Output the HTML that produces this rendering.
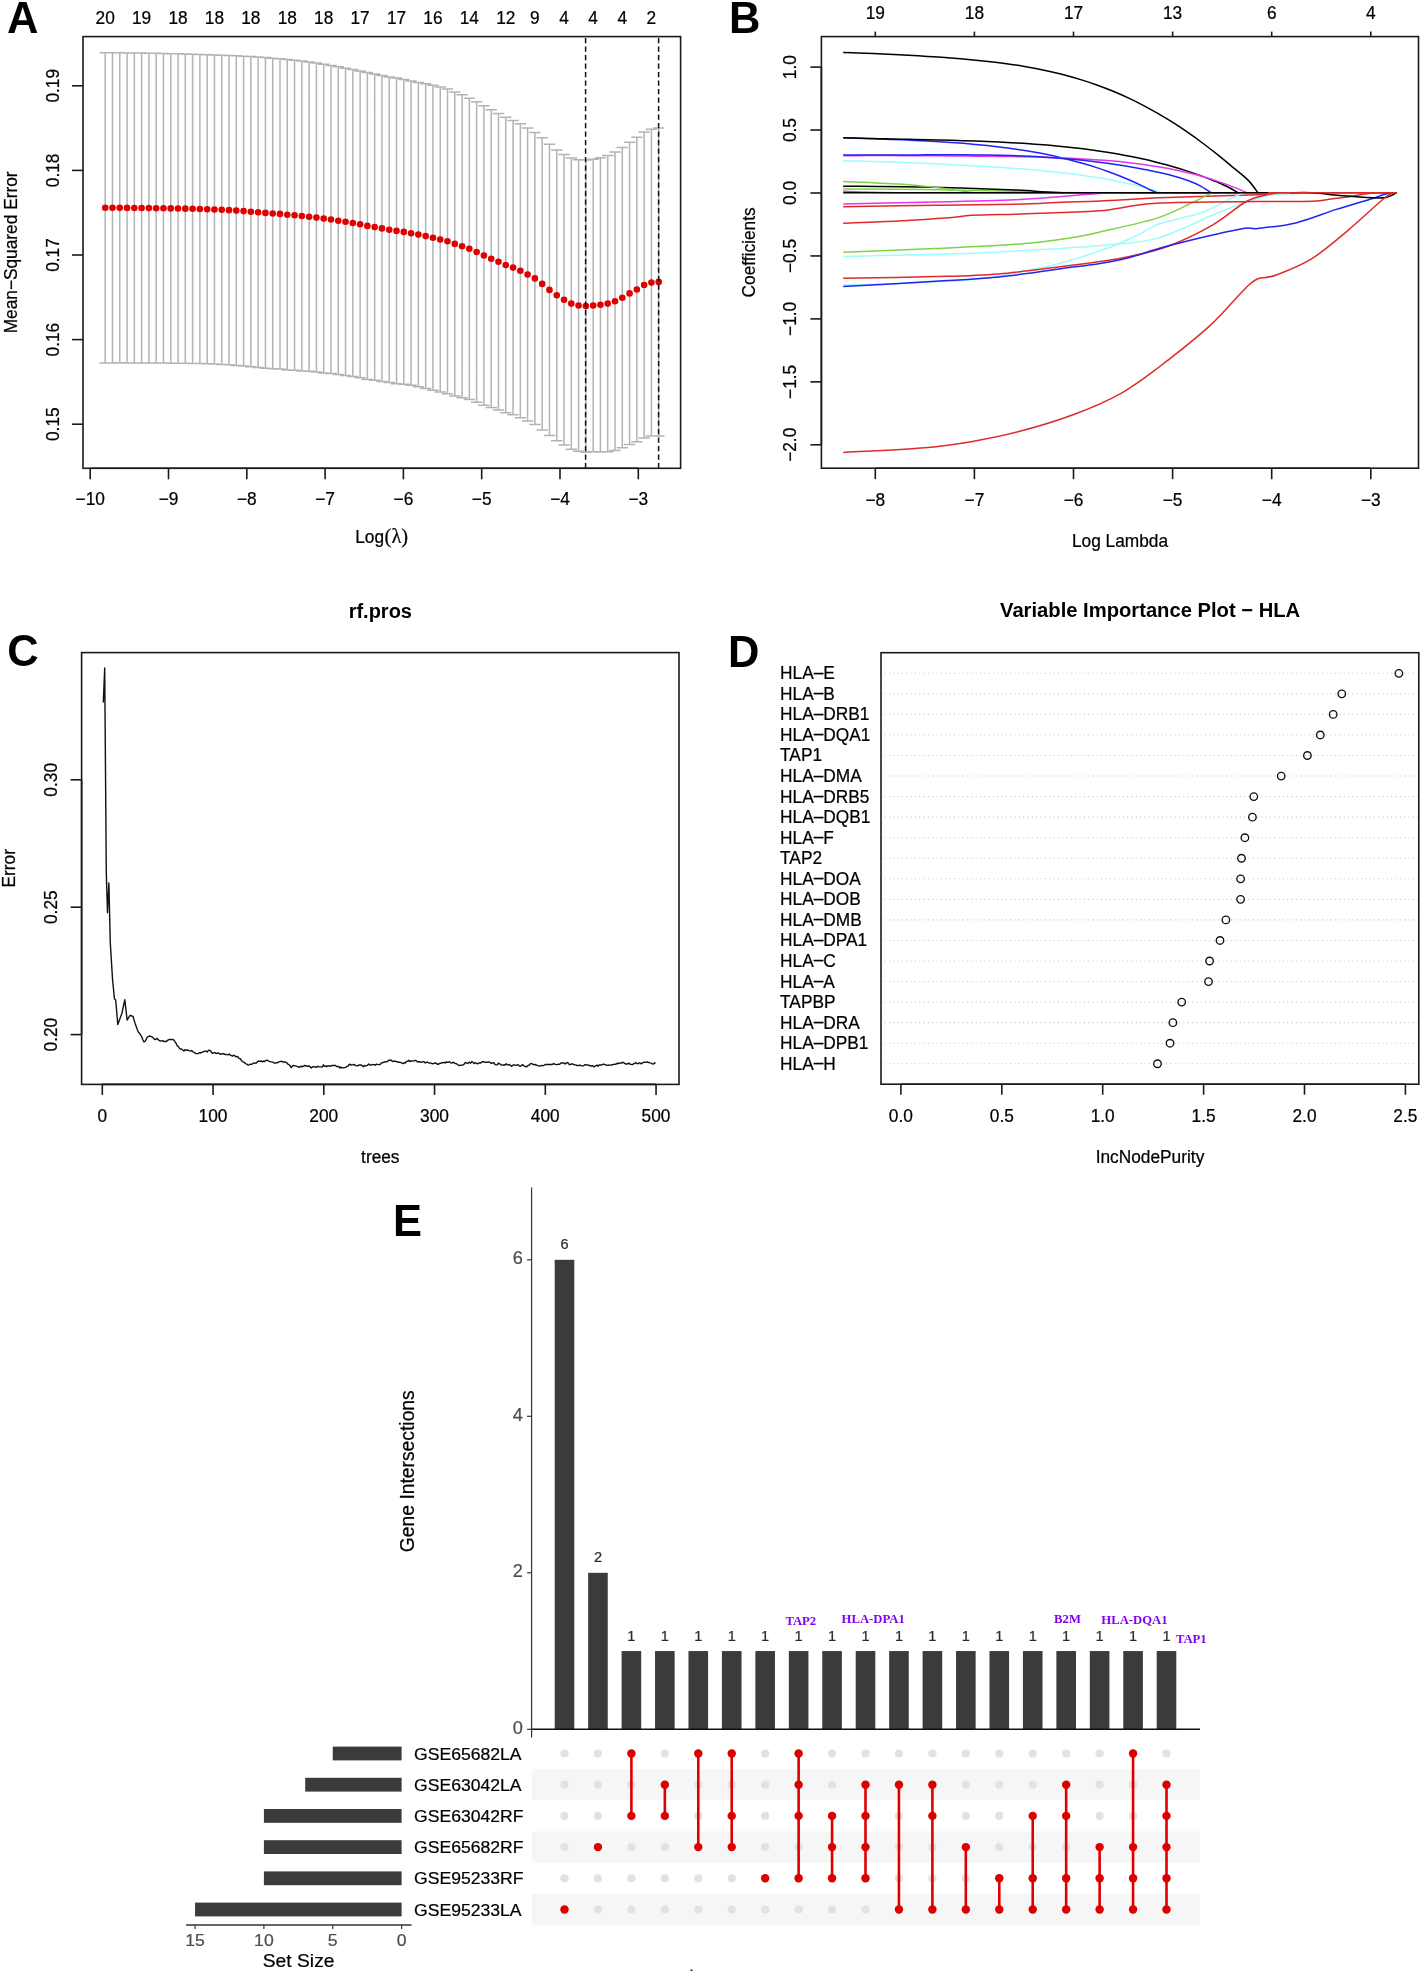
<!DOCTYPE html>
<html><head><meta charset="utf-8"><title>Figure</title>
<style>
html,body{margin:0;padding:0;background:#fff;}
svg{display:block;font-family:"Liberation Sans", sans-serif;will-change:transform;}
</style></head>
<body>
<svg width="1422" height="1974" viewBox="0 0 1422 1974">
<rect width="1422" height="1974" fill="#fff"/>
<text x="6.92" y="32.6" font-size="43.5" text-anchor="start" fill="#000" font-weight="bold">A</text>
<text x="729.09" y="32.6" font-size="43.5" text-anchor="start" fill="#000" font-weight="bold">B</text>
<text x="7.22" y="666.2" font-size="43.5" text-anchor="start" fill="#000" font-weight="bold">C</text>
<text x="728.09" y="667.3" font-size="43.5" text-anchor="start" fill="#000" font-weight="bold">D</text>
<text x="392.89" y="1236.3" font-size="43.5" text-anchor="start" fill="#000" font-weight="bold">E</text>
<path d="M105.2 52.7V362.9M99.5 52.7H110.9M99.5 362.9H110.9M112.48 52.78V362.88M106.78 52.78H118.18M106.78 362.88H118.18M119.77 52.85V362.87M114.07 52.85H125.47M114.07 362.87H125.47M127.05 52.92V362.88M121.35 52.92H132.75M121.35 362.88H132.75M134.33 53V362.91M128.63 53H140.03M128.63 362.91H140.03M141.62 53.09V362.96M135.92 53.09H147.31M135.92 362.96H147.31M148.9 53.2V363M143.2 53.2H154.6M143.2 363H154.6M156.18 53.33V363.05M150.48 53.33H161.88M150.48 363.05H161.88M163.46 53.47V363.1M157.76 53.47H169.16M157.76 363.1H169.16M170.75 53.63V363.17M165.05 53.63H176.45M165.05 363.17H176.45M178.03 53.8V363.23M172.33 53.8H183.73M172.33 363.23H183.73M185.31 53.99V363.29M179.61 53.99H191.01M179.61 363.29H191.01M192.6 54.2V363.4M186.9 54.2H198.3M186.9 363.4H198.3M199.88 54.42V363.57M194.18 54.42H205.58M194.18 363.57H205.58M207.16 54.66V363.8M201.46 54.66H212.86M201.46 363.8H212.86M214.44 54.91V364.09M208.75 54.91H220.14M208.75 364.09H220.14M221.73 55.18V364.45M216.03 55.18H227.43M216.03 364.45H227.43M229.01 55.48V364.87M223.31 55.48H234.71M223.31 364.87H234.71M236.29 55.8V365.4M230.59 55.8H241.99M230.59 365.4H241.99M243.58 56.16V366.08M237.88 56.16H249.28M237.88 366.08H249.28M250.86 56.58V366.83M245.16 56.58H256.56M245.16 366.83H256.56M258.14 57.05V367.55M252.44 57.05H263.84M252.44 367.55H263.84M265.43 57.6V368.22M259.73 57.6H271.13M259.73 368.22H271.13M272.71 58.21V368.79M267.01 58.21H278.41M267.01 368.79H278.41M279.99 58.85V368.95M274.29 58.85H285.69M274.29 368.95H285.69M287.28 59.55V370.05M281.58 59.55H292.98M281.58 370.05H292.98M294.56 60.29V370.31M288.86 60.29H300.26M288.86 370.31H300.26M301.84 61.1V370.9M296.14 61.1H307.54M296.14 370.9H307.54M309.12 62.04V371.36M303.42 62.04H314.82M303.42 371.36H314.82M316.41 63.12V372.08M310.71 63.12H322.11M310.71 372.08H322.11M323.69 64.3V372.9M317.99 64.3H329.39M317.99 372.9H329.39M330.97 65.53V373.47M325.27 65.53H336.67M325.27 373.47H336.67M338.26 66.81V374.59M332.56 66.81H343.96M332.56 374.59H343.96M345.54 68.13V375.47M339.84 68.13H351.24M339.84 375.47H351.24M352.82 69.5V376.5M347.12 69.5H358.52M347.12 376.5H358.52M360.11 70.92V377.68M354.41 70.92H365.81M354.41 377.68H365.81M367.39 72.4V379.4M361.69 72.4H373.09M361.69 379.4H373.09M374.67 73.91V380.29M368.97 73.91H380.37M368.97 380.29H380.37M381.95 75.4V381.4M376.25 75.4H387.65M376.25 381.4H387.65M389.24 76.9V382.5M383.54 76.9H394.94M383.54 382.5H394.94M396.52 78.1V383.7M390.82 78.1H402.22M390.82 383.7H402.22M403.8 79.6V384.2M398.1 79.6H409.5M398.1 384.2H409.5M411.09 81.1V385.3M405.39 81.1H416.79M405.39 385.3H416.79M418.37 82.4V386.8M412.67 82.4H424.07M412.67 386.8H424.07M425.65 83.8V388.4M419.95 83.8H431.35M419.95 388.4H431.35M432.94 85.3V390.3M427.24 85.3H438.63M427.24 390.3H438.63M440.22 87V392M434.52 87H445.92M434.52 392H445.92M447.5 88.9V393.7M441.8 88.9H453.2M441.8 393.7H453.2M454.78 91.9V395.9M449.08 91.9H460.48M449.08 395.9H460.48M462.07 94.8V397.8M456.37 94.8H467.77M456.37 397.8H467.77M469.35 98.2V399.4M463.65 98.2H475.05M463.65 399.4H475.05M476.63 101.8V402.2M470.93 101.8H482.33M470.93 402.2H482.33M483.92 105.8V405.2M478.22 105.8H489.62M478.22 405.2H489.62M491.2 109.8V407.6M485.5 109.8H496.9M485.5 407.6H496.9M498.48 113.6V410M492.78 113.6H504.18M492.78 410H504.18M505.76 117.2V412.8M500.06 117.2H511.46M500.06 412.8H511.46M513.05 120.5V414.7M507.35 120.5H518.75M507.35 414.7H518.75M520.33 123.7V417.7M514.63 123.7H526.03M514.63 417.7H526.03M527.61 127.9V421.1M521.91 127.9H533.31M521.91 421.1H533.31M534.9 132.4V424.4M529.2 132.4H540.6M529.2 424.4H540.6M542.18 137.8V430M536.48 137.8H547.88M536.48 430H547.88M549.46 144.2V435.6M543.76 144.2H555.16M543.76 435.6H555.16M556.75 149.9V440.7M551.05 149.9H562.45M551.05 440.7H562.45M564.03 154.5V445.1M558.33 154.5H569.73M558.33 445.1H569.73M571.31 157.9V449.3M565.61 157.9H577.01M565.61 449.3H577.01M578.6 159.8V451.2M572.89 159.8H584.3M572.89 451.2H584.3M585.88 160V452.2M580.18 160H591.58M580.18 452.2H591.58M593.16 159.2V451.8M587.46 159.2H598.86M587.46 451.8H598.86M600.44 157.7V451.9M594.74 157.7H606.14M594.74 451.9H606.14M607.73 155.4V451.8M602.03 155.4H613.43M602.03 451.8H613.43M615.01 152V450.4M609.31 152H620.71M609.31 450.4H620.71M622.29 147.6V447.8M616.59 147.6H627.99M616.59 447.8H627.99M629.58 142.3V444.5M623.88 142.3H635.28M623.88 444.5H635.28M636.86 137.2V441.8M631.16 137.2H642.56M631.16 441.8H642.56M644.14 131.9V438.1M638.44 131.9H649.84M638.44 438.1H649.84M651.43 129.2V436M645.73 129.2H657.13M645.73 436H657.13M658.71 127.9V435.9M653.01 127.9H664.41M653.01 435.9H664.41" stroke="#b3b3b3" stroke-width="1.5" fill="none"/>
<circle cx="105.2" cy="207.8" r="3.3" fill="#e00000"/>
<circle cx="112.48" cy="207.83" r="3.3" fill="#e00000"/>
<circle cx="119.77" cy="207.86" r="3.3" fill="#e00000"/>
<circle cx="127.05" cy="207.9" r="3.3" fill="#e00000"/>
<circle cx="134.33" cy="207.96" r="3.3" fill="#e00000"/>
<circle cx="141.62" cy="208.02" r="3.3" fill="#e00000"/>
<circle cx="148.9" cy="208.1" r="3.3" fill="#e00000"/>
<circle cx="156.18" cy="208.19" r="3.3" fill="#e00000"/>
<circle cx="163.46" cy="208.29" r="3.3" fill="#e00000"/>
<circle cx="170.75" cy="208.4" r="3.3" fill="#e00000"/>
<circle cx="178.03" cy="208.51" r="3.3" fill="#e00000"/>
<circle cx="185.31" cy="208.64" r="3.3" fill="#e00000"/>
<circle cx="192.6" cy="208.8" r="3.3" fill="#e00000"/>
<circle cx="199.88" cy="209" r="3.3" fill="#e00000"/>
<circle cx="207.16" cy="209.23" r="3.3" fill="#e00000"/>
<circle cx="214.44" cy="209.5" r="3.3" fill="#e00000"/>
<circle cx="221.73" cy="209.81" r="3.3" fill="#e00000"/>
<circle cx="229.01" cy="210.17" r="3.3" fill="#e00000"/>
<circle cx="236.29" cy="210.6" r="3.3" fill="#e00000"/>
<circle cx="243.58" cy="211.12" r="3.3" fill="#e00000"/>
<circle cx="250.86" cy="211.71" r="3.3" fill="#e00000"/>
<circle cx="258.14" cy="212.3" r="3.3" fill="#e00000"/>
<circle cx="265.43" cy="212.91" r="3.3" fill="#e00000"/>
<circle cx="272.71" cy="213.5" r="3.3" fill="#e00000"/>
<circle cx="279.99" cy="213.9" r="3.3" fill="#e00000"/>
<circle cx="287.28" cy="214.8" r="3.3" fill="#e00000"/>
<circle cx="294.56" cy="215.3" r="3.3" fill="#e00000"/>
<circle cx="301.84" cy="216" r="3.3" fill="#e00000"/>
<circle cx="309.12" cy="216.7" r="3.3" fill="#e00000"/>
<circle cx="316.41" cy="217.6" r="3.3" fill="#e00000"/>
<circle cx="323.69" cy="218.6" r="3.3" fill="#e00000"/>
<circle cx="330.97" cy="219.5" r="3.3" fill="#e00000"/>
<circle cx="338.26" cy="220.7" r="3.3" fill="#e00000"/>
<circle cx="345.54" cy="221.8" r="3.3" fill="#e00000"/>
<circle cx="352.82" cy="223" r="3.3" fill="#e00000"/>
<circle cx="360.11" cy="224.3" r="3.3" fill="#e00000"/>
<circle cx="367.39" cy="225.9" r="3.3" fill="#e00000"/>
<circle cx="374.67" cy="227.1" r="3.3" fill="#e00000"/>
<circle cx="381.95" cy="228.4" r="3.3" fill="#e00000"/>
<circle cx="389.24" cy="229.7" r="3.3" fill="#e00000"/>
<circle cx="396.52" cy="230.9" r="3.3" fill="#e00000"/>
<circle cx="403.8" cy="231.9" r="3.3" fill="#e00000"/>
<circle cx="411.09" cy="233.2" r="3.3" fill="#e00000"/>
<circle cx="418.37" cy="234.6" r="3.3" fill="#e00000"/>
<circle cx="425.65" cy="236.1" r="3.3" fill="#e00000"/>
<circle cx="432.94" cy="237.8" r="3.3" fill="#e00000"/>
<circle cx="440.22" cy="239.5" r="3.3" fill="#e00000"/>
<circle cx="447.5" cy="241.3" r="3.3" fill="#e00000"/>
<circle cx="454.78" cy="243.9" r="3.3" fill="#e00000"/>
<circle cx="462.07" cy="246.3" r="3.3" fill="#e00000"/>
<circle cx="469.35" cy="248.8" r="3.3" fill="#e00000"/>
<circle cx="476.63" cy="252" r="3.3" fill="#e00000"/>
<circle cx="483.92" cy="255.5" r="3.3" fill="#e00000"/>
<circle cx="491.2" cy="258.7" r="3.3" fill="#e00000"/>
<circle cx="498.48" cy="261.8" r="3.3" fill="#e00000"/>
<circle cx="505.76" cy="265" r="3.3" fill="#e00000"/>
<circle cx="513.05" cy="267.6" r="3.3" fill="#e00000"/>
<circle cx="520.33" cy="270.7" r="3.3" fill="#e00000"/>
<circle cx="527.61" cy="274.5" r="3.3" fill="#e00000"/>
<circle cx="534.9" cy="278.4" r="3.3" fill="#e00000"/>
<circle cx="542.18" cy="283.9" r="3.3" fill="#e00000"/>
<circle cx="549.46" cy="289.9" r="3.3" fill="#e00000"/>
<circle cx="556.75" cy="295.3" r="3.3" fill="#e00000"/>
<circle cx="564.03" cy="299.8" r="3.3" fill="#e00000"/>
<circle cx="571.31" cy="303.6" r="3.3" fill="#e00000"/>
<circle cx="578.6" cy="305.5" r="3.3" fill="#e00000"/>
<circle cx="585.88" cy="306.1" r="3.3" fill="#e00000"/>
<circle cx="593.16" cy="305.5" r="3.3" fill="#e00000"/>
<circle cx="600.44" cy="304.8" r="3.3" fill="#e00000"/>
<circle cx="607.73" cy="303.6" r="3.3" fill="#e00000"/>
<circle cx="615.01" cy="301.2" r="3.3" fill="#e00000"/>
<circle cx="622.29" cy="297.7" r="3.3" fill="#e00000"/>
<circle cx="629.58" cy="293.4" r="3.3" fill="#e00000"/>
<circle cx="636.86" cy="289.5" r="3.3" fill="#e00000"/>
<circle cx="644.14" cy="285" r="3.3" fill="#e00000"/>
<circle cx="651.43" cy="282.6" r="3.3" fill="#e00000"/>
<circle cx="658.71" cy="281.9" r="3.3" fill="#e00000"/>
<line x1="585.6" y1="468.3" x2="585.6" y2="36.6" stroke="#111" stroke-width="1.5" stroke-dasharray="5.3 3.2"/>
<line x1="658.6" y1="468.3" x2="658.6" y2="36.6" stroke="#111" stroke-width="1.5" stroke-dasharray="5.3 3.2"/>
<rect x="83" y="36.6" width="597.6" height="431.7" fill="none" stroke="#1a1a1a" stroke-width="1.6"/>
<text x="105.2" y="23.7" font-size="17.3" text-anchor="middle" fill="#000" transform="translate(105.2 23.7) scale(1 1.03) translate(-105.2 -23.7)" stroke="#000" stroke-width="0.22">20</text>
<text x="141.62" y="23.7" font-size="17.3" text-anchor="middle" fill="#000" transform="translate(141.62 23.7) scale(1 1.03) translate(-141.62 -23.7)" stroke="#000" stroke-width="0.22">19</text>
<text x="178.03" y="23.7" font-size="17.3" text-anchor="middle" fill="#000" transform="translate(178.03 23.7) scale(1 1.03) translate(-178.03 -23.7)" stroke="#000" stroke-width="0.22">18</text>
<text x="214.44" y="23.7" font-size="17.3" text-anchor="middle" fill="#000" transform="translate(214.44 23.7) scale(1 1.03) translate(-214.44 -23.7)" stroke="#000" stroke-width="0.22">18</text>
<text x="250.86" y="23.7" font-size="17.3" text-anchor="middle" fill="#000" transform="translate(250.86 23.7) scale(1 1.03) translate(-250.86 -23.7)" stroke="#000" stroke-width="0.22">18</text>
<text x="287.28" y="23.7" font-size="17.3" text-anchor="middle" fill="#000" transform="translate(287.28 23.7) scale(1 1.03) translate(-287.28 -23.7)" stroke="#000" stroke-width="0.22">18</text>
<text x="323.69" y="23.7" font-size="17.3" text-anchor="middle" fill="#000" transform="translate(323.69 23.7) scale(1 1.03) translate(-323.69 -23.7)" stroke="#000" stroke-width="0.22">18</text>
<text x="360.11" y="23.7" font-size="17.3" text-anchor="middle" fill="#000" transform="translate(360.11 23.7) scale(1 1.03) translate(-360.11 -23.7)" stroke="#000" stroke-width="0.22">17</text>
<text x="396.52" y="23.7" font-size="17.3" text-anchor="middle" fill="#000" transform="translate(396.52 23.7) scale(1 1.03) translate(-396.52 -23.7)" stroke="#000" stroke-width="0.22">17</text>
<text x="432.94" y="23.7" font-size="17.3" text-anchor="middle" fill="#000" transform="translate(432.94 23.7) scale(1 1.03) translate(-432.94 -23.7)" stroke="#000" stroke-width="0.22">16</text>
<text x="469.35" y="23.7" font-size="17.3" text-anchor="middle" fill="#000" transform="translate(469.35 23.7) scale(1 1.03) translate(-469.35 -23.7)" stroke="#000" stroke-width="0.22">14</text>
<text x="505.76" y="23.7" font-size="17.3" text-anchor="middle" fill="#000" transform="translate(505.76 23.7) scale(1 1.03) translate(-505.76 -23.7)" stroke="#000" stroke-width="0.22">12</text>
<text x="534.9" y="23.7" font-size="17.3" text-anchor="middle" fill="#000" transform="translate(534.9 23.7) scale(1 1.03) translate(-534.9 -23.7)" stroke="#000" stroke-width="0.22">9</text>
<text x="564.03" y="23.7" font-size="17.3" text-anchor="middle" fill="#000" transform="translate(564.03 23.7) scale(1 1.03) translate(-564.03 -23.7)" stroke="#000" stroke-width="0.22">4</text>
<text x="593.16" y="23.7" font-size="17.3" text-anchor="middle" fill="#000" transform="translate(593.16 23.7) scale(1 1.03) translate(-593.16 -23.7)" stroke="#000" stroke-width="0.22">4</text>
<text x="622.29" y="23.7" font-size="17.3" text-anchor="middle" fill="#000" transform="translate(622.29 23.7) scale(1 1.03) translate(-622.29 -23.7)" stroke="#000" stroke-width="0.22">4</text>
<text x="651.43" y="23.7" font-size="17.3" text-anchor="middle" fill="#000" transform="translate(651.43 23.7) scale(1 1.03) translate(-651.43 -23.7)" stroke="#000" stroke-width="0.22">2</text>
<line x1="90.2" y1="468.3" x2="90.2" y2="479.3" stroke="#1a1a1a" stroke-width="1.6"/>
<text x="90.2" y="505.5" font-size="17.3" text-anchor="middle" fill="#000" transform="translate(90.2 505.5) scale(1 1.03) translate(-90.2 -505.5)" stroke="#000" stroke-width="0.22">−10</text>
<line x1="168.5" y1="468.3" x2="168.5" y2="479.3" stroke="#1a1a1a" stroke-width="1.6"/>
<text x="168.5" y="505.5" font-size="17.3" text-anchor="middle" fill="#000" transform="translate(168.5 505.5) scale(1 1.03) translate(-168.5 -505.5)" stroke="#000" stroke-width="0.22">−9</text>
<line x1="246.8" y1="468.3" x2="246.8" y2="479.3" stroke="#1a1a1a" stroke-width="1.6"/>
<text x="246.8" y="505.5" font-size="17.3" text-anchor="middle" fill="#000" transform="translate(246.8 505.5) scale(1 1.03) translate(-246.8 -505.5)" stroke="#000" stroke-width="0.22">−8</text>
<line x1="325.1" y1="468.3" x2="325.1" y2="479.3" stroke="#1a1a1a" stroke-width="1.6"/>
<text x="325.1" y="505.5" font-size="17.3" text-anchor="middle" fill="#000" transform="translate(325.1 505.5) scale(1 1.03) translate(-325.1 -505.5)" stroke="#000" stroke-width="0.22">−7</text>
<line x1="403.4" y1="468.3" x2="403.4" y2="479.3" stroke="#1a1a1a" stroke-width="1.6"/>
<text x="403.4" y="505.5" font-size="17.3" text-anchor="middle" fill="#000" transform="translate(403.4 505.5) scale(1 1.03) translate(-403.4 -505.5)" stroke="#000" stroke-width="0.22">−6</text>
<line x1="481.7" y1="468.3" x2="481.7" y2="479.3" stroke="#1a1a1a" stroke-width="1.6"/>
<text x="481.7" y="505.5" font-size="17.3" text-anchor="middle" fill="#000" transform="translate(481.7 505.5) scale(1 1.03) translate(-481.7 -505.5)" stroke="#000" stroke-width="0.22">−5</text>
<line x1="560" y1="468.3" x2="560" y2="479.3" stroke="#1a1a1a" stroke-width="1.6"/>
<text x="560" y="505.5" font-size="17.3" text-anchor="middle" fill="#000" transform="translate(560 505.5) scale(1 1.03) translate(-560 -505.5)" stroke="#000" stroke-width="0.22">−4</text>
<line x1="638.3" y1="468.3" x2="638.3" y2="479.3" stroke="#1a1a1a" stroke-width="1.6"/>
<text x="638.3" y="505.5" font-size="17.3" text-anchor="middle" fill="#000" transform="translate(638.3 505.5) scale(1 1.03) translate(-638.3 -505.5)" stroke="#000" stroke-width="0.22">−3</text>
<line x1="90.2" y1="468.3" x2="638.3" y2="468.3" stroke="#1a1a1a" stroke-width="1.6"/>
<line x1="72" y1="85.8" x2="83" y2="85.8" stroke="#1a1a1a" stroke-width="1.6"/>
<text x="59" y="85.8" font-size="17.3" text-anchor="middle" fill="#000" transform="rotate(-90 59 85.8) translate(59 85.8) scale(1 1.03) translate(-59 -85.8)" stroke="#000" stroke-width="0.22">0.19</text>
<line x1="72" y1="170.4" x2="83" y2="170.4" stroke="#1a1a1a" stroke-width="1.6"/>
<text x="59" y="170.4" font-size="17.3" text-anchor="middle" fill="#000" transform="rotate(-90 59 170.4) translate(59 170.4) scale(1 1.03) translate(-59 -170.4)" stroke="#000" stroke-width="0.22">0.18</text>
<line x1="72" y1="255" x2="83" y2="255" stroke="#1a1a1a" stroke-width="1.6"/>
<text x="59" y="255" font-size="17.3" text-anchor="middle" fill="#000" transform="rotate(-90 59 255) translate(59 255) scale(1 1.03) translate(-59 -255)" stroke="#000" stroke-width="0.22">0.17</text>
<line x1="72" y1="339.6" x2="83" y2="339.6" stroke="#1a1a1a" stroke-width="1.6"/>
<text x="59" y="339.6" font-size="17.3" text-anchor="middle" fill="#000" transform="rotate(-90 59 339.6) translate(59 339.6) scale(1 1.03) translate(-59 -339.6)" stroke="#000" stroke-width="0.22">0.16</text>
<line x1="72" y1="424.2" x2="83" y2="424.2" stroke="#1a1a1a" stroke-width="1.6"/>
<text x="59" y="424.2" font-size="17.3" text-anchor="middle" fill="#000" transform="rotate(-90 59 424.2) translate(59 424.2) scale(1 1.03) translate(-59 -424.2)" stroke="#000" stroke-width="0.22">0.15</text>
<text x="16.8" y="252.4" font-size="17.3" text-anchor="middle" fill="#000" transform="rotate(-90 16.8 252.4) translate(16.8 252.4) scale(1 1.03) translate(-16.8 -252.4)" stroke="#000" stroke-width="0.22">Mean−Squared Error</text>
<text x="355.18" y="543.2" font-size="17.3" text-anchor="start" fill="#000" transform="translate(355.18 543.2) scale(1 1.03) translate(-355.18 -543.2)" stroke="#000" stroke-width="0.22">Log<tspan font-family='"Liberation Serif", serif' font-size="20.5" dx="0.6">(λ)</tspan></text>
<path d="M843.2 191.3 C847.67 191.45 860.82 191.95 870 192.2 C879.18 192.45 893.58 192.7 898.3 192.8 L1396.7 192.8" stroke="#e436ec" stroke-width="1.5" fill="none" stroke-linejoin="round"/>
<path d="M843.2 189.1 C856.6 189.18 894.97 189.23 923.6 189.6 C952.23 189.97 993.93 190.85 1015 191.3 C1036.07 191.75 1038.67 192.05 1050 192.3 C1061.33 192.55 1077.5 192.72 1083 192.8 L1396.7 192.8" stroke="#7cd444" stroke-width="1.5" fill="none" stroke-linejoin="round"/>
<path d="M843.2 186.2 C856.6 186.35 894.97 186.47 923.6 187.1 C952.23 187.73 995.43 189.23 1015 190 C1034.57 190.77 1033.17 191.23 1041 191.7 C1048.83 192.17 1058.5 192.62 1062 192.8 L1396.7 192.8" stroke="#000000" stroke-width="1.5" fill="none" stroke-linejoin="round"/>
<path d="M843.2 181.5 C852.38 181.92 882.78 183 898.3 184 C913.82 185 926.02 186.37 936.3 187.5 C946.58 188.63 953.68 189.92 960 190.8 C966.32 191.68 971.83 192.47 974.2 192.8 L1396.7 192.8" stroke="#7cd444" stroke-width="1.5" fill="none" stroke-linejoin="round"/>
<path d="M843.2 160.89 C845.2 160.92 851.2 161.01 855.2 161.09 C859.2 161.17 863.2 161.27 867.2 161.37 C871.2 161.48 875.2 161.6 879.2 161.72 C883.2 161.85 887.2 161.98 891.2 162.12 C895.2 162.26 899.2 162.41 903.2 162.57 C907.2 162.72 911.2 162.88 915.2 163.05 C919.2 163.22 923.2 163.39 927.2 163.56 C931.2 163.74 935.2 163.92 939.2 164.11 C943.2 164.29 947.2 164.48 951.2 164.68 C955.2 164.87 959.2 165.07 963.2 165.28 C967.2 165.49 971.2 165.7 975.2 165.92 C979.2 166.15 983.2 166.37 987.2 166.61 C991.2 166.85 995.2 167.09 999.2 167.35 C1003.2 167.61 1007.2 167.88 1011.2 168.16 C1015.2 168.44 1019.2 168.74 1023.2 169.05 C1027.2 169.36 1031.2 169.69 1035.2 170.04 C1039.2 170.39 1043.2 170.75 1047.2 171.14 C1051.2 171.54 1055.2 171.95 1059.2 172.39 C1063.2 172.83 1067.2 173.3 1071.2 173.8 C1075.2 174.3 1079.2 174.83 1083.2 175.4 C1087.2 175.98 1091.2 176.58 1095.2 177.23 C1099.2 177.88 1103.2 178.56 1107.2 179.3 C1111.2 180.04 1115.2 180.82 1119.2 181.67 C1123.2 182.51 1127.2 183.4 1131.2 184.35 C1135.2 185.31 1139.23 186.33 1143.2 187.4 C1147.17 188.47 1151.97 189.89 1155 190.79 C1158.03 191.69 1160.33 192.46 1161.4 192.8 L1396.7 192.8" stroke="#9dfcfc" stroke-width="1.5" fill="none" stroke-linejoin="round"/>
<path d="M843.2 137.76 C845.2 137.82 851.2 138.01 855.2 138.14 C859.2 138.27 863.2 138.4 867.2 138.54 C871.2 138.67 875.2 138.81 879.2 138.95 C883.2 139.09 887.2 139.23 891.2 139.39 C895.2 139.54 899.2 139.7 903.2 139.87 C907.2 140.04 911.2 140.21 915.2 140.4 C919.2 140.59 923.2 140.78 927.2 141 C931.2 141.21 935.2 141.43 939.2 141.68 C943.2 141.92 947.2 142.18 951.2 142.46 C955.2 142.74 959.2 143.03 963.2 143.35 C967.2 143.67 971.2 144.01 975.2 144.38 C979.2 144.75 983.2 145.15 987.2 145.57 C991.2 146 995.2 146.45 999.2 146.93 C1003.2 147.42 1007.2 147.94 1011.2 148.5 C1015.2 149.05 1019.2 149.64 1023.2 150.28 C1027.2 150.92 1031.2 151.59 1035.2 152.31 C1039.2 153.03 1043.2 153.8 1047.2 154.61 C1051.2 155.43 1055.2 156.3 1059.2 157.22 C1063.2 158.14 1067.2 159.11 1071.2 160.15 C1075.2 161.19 1079.2 162.28 1083.2 163.44 C1087.2 164.6 1091.2 165.82 1095.2 167.12 C1099.2 168.42 1103.2 169.78 1107.2 171.22 C1111.2 172.66 1115.2 174.17 1119.2 175.77 C1123.2 177.37 1127.2 179.04 1131.2 180.81 C1135.2 182.58 1140.07 184.88 1143.2 186.37 C1146.33 187.86 1147.62 188.7 1150 189.77 C1152.38 190.84 1156.25 192.29 1157.5 192.8 L1396.7 192.8" stroke="#2222f2" stroke-width="1.5" fill="none" stroke-linejoin="round"/>
<path d="M843.2 137.76 C845.2 137.81 851.2 137.98 855.2 138.08 C859.2 138.19 863.2 138.29 867.2 138.39 C871.2 138.48 875.2 138.58 879.2 138.67 C883.2 138.76 887.2 138.85 891.2 138.94 C895.2 139.02 899.2 139.11 903.2 139.2 C907.2 139.29 911.2 139.37 915.2 139.46 C919.2 139.55 923.2 139.64 927.2 139.73 C931.2 139.82 935.2 139.92 939.2 140.02 C943.2 140.12 947.2 140.22 951.2 140.33 C955.2 140.44 959.2 140.55 963.2 140.68 C967.2 140.8 971.2 140.93 975.2 141.07 C979.2 141.21 983.2 141.36 987.2 141.52 C991.2 141.69 995.2 141.86 999.2 142.05 C1003.2 142.23 1007.2 142.43 1011.2 142.65 C1015.2 142.87 1019.2 143.1 1023.2 143.35 C1027.2 143.6 1031.2 143.87 1035.2 144.16 C1039.2 144.45 1043.2 144.76 1047.2 145.1 C1051.2 145.43 1055.2 145.79 1059.2 146.17 C1063.2 146.56 1067.2 146.96 1071.2 147.4 C1075.2 147.84 1079.2 148.31 1083.2 148.81 C1087.2 149.31 1091.2 149.84 1095.2 150.4 C1099.2 150.97 1103.2 151.57 1107.2 152.21 C1111.2 152.85 1115.2 153.52 1119.2 154.24 C1123.2 154.96 1127.2 155.72 1131.2 156.53 C1135.2 157.33 1139.2 158.18 1143.2 159.08 C1147.2 159.97 1151.2 160.92 1155.2 161.92 C1159.2 162.91 1163.2 163.96 1167.2 165.07 C1171.2 166.17 1175.2 167.33 1179.2 168.55 C1183.2 169.77 1187.2 171.05 1191.2 172.39 C1195.2 173.74 1199.2 175.14 1203.2 176.61 C1207.2 178.09 1212.97 180.38 1215.2 181.24 C1217.43 182.11 1214.47 180.85 1216.6 181.81 C1218.73 182.77 1224.4 185.17 1228 187 C1231.6 188.83 1236.5 191.83 1238.2 192.8 L1396.7 192.8" stroke="#000000" stroke-width="1.5" fill="none" stroke-linejoin="round"/>
<path d="M843.2 155.85 C845.2 155.82 851.2 155.74 855.2 155.7 C859.2 155.66 863.2 155.64 867.2 155.62 C871.2 155.6 875.2 155.59 879.2 155.59 C883.2 155.59 887.2 155.59 891.2 155.6 C895.2 155.61 899.2 155.62 903.2 155.64 C907.2 155.66 911.2 155.68 915.2 155.7 C919.2 155.72 923.2 155.75 927.2 155.78 C931.2 155.8 935.2 155.83 939.2 155.86 C943.2 155.89 947.2 155.92 951.2 155.96 C955.2 155.99 959.2 156.02 963.2 156.06 C967.2 156.1 971.2 156.13 975.2 156.17 C979.2 156.21 983.2 156.25 987.2 156.3 C991.2 156.35 995.2 156.39 999.2 156.45 C1003.2 156.5 1007.2 156.56 1011.2 156.62 C1015.2 156.68 1019.2 156.75 1023.2 156.83 C1027.2 156.91 1031.2 156.99 1035.2 157.09 C1039.2 157.18 1043.2 157.29 1047.2 157.4 C1051.2 157.52 1055.2 157.65 1059.2 157.8 C1063.2 157.95 1067.2 158.11 1071.2 158.29 C1075.2 158.47 1079.2 158.67 1083.2 158.89 C1087.2 159.12 1091.2 159.36 1095.2 159.63 C1099.2 159.9 1103.2 160.2 1107.2 160.52 C1111.2 160.85 1115.2 161.21 1119.2 161.6 C1123.2 162 1127.2 162.42 1131.2 162.89 C1135.2 163.36 1139.2 163.86 1143.2 164.42 C1147.2 164.97 1151.2 165.56 1155.2 166.21 C1159.2 166.86 1163.2 167.56 1167.2 168.31 C1171.2 169.07 1175.2 169.88 1179.2 170.75 C1183.2 171.63 1187.2 172.56 1191.2 173.57 C1195.2 174.57 1199.2 175.64 1203.2 176.79 C1207.2 177.94 1211.2 179.16 1215.2 180.47 C1219.2 181.78 1223.68 183.37 1227.2 184.65 C1230.72 185.93 1232.98 186.82 1236.3 188.18 C1239.62 189.54 1245.3 192.03 1247.1 192.8 L1396.7 192.8" stroke="#e436ec" stroke-width="1.5" fill="none" stroke-linejoin="round"/>
<path d="M843.2 154.94 C845.2 154.96 851.2 155.01 855.2 155.04 C859.2 155.06 863.2 155.07 867.2 155.08 C871.2 155.08 875.2 155.08 879.2 155.07 C883.2 155.06 887.2 155.05 891.2 155.03 C895.2 155.01 899.2 154.99 903.2 154.97 C907.2 154.95 911.2 154.92 915.2 154.9 C919.2 154.88 923.2 154.86 927.2 154.84 C931.2 154.82 935.2 154.8 939.2 154.79 C943.2 154.79 947.2 154.78 951.2 154.78 C955.2 154.78 959.2 154.79 963.2 154.81 C967.2 154.83 971.2 154.86 975.2 154.9 C979.2 154.94 983.2 154.99 987.2 155.05 C991.2 155.12 995.2 155.19 999.2 155.29 C1003.2 155.38 1007.2 155.49 1011.2 155.62 C1015.2 155.75 1019.2 155.89 1023.2 156.06 C1027.2 156.23 1031.2 156.41 1035.2 156.62 C1039.2 156.83 1043.2 157.06 1047.2 157.31 C1051.2 157.57 1055.2 157.85 1059.2 158.15 C1063.2 158.46 1067.2 158.79 1071.2 159.15 C1075.2 159.51 1079.2 159.9 1083.2 160.32 C1087.2 160.74 1091.2 161.19 1095.2 161.67 C1099.2 162.16 1103.2 162.67 1107.2 163.22 C1111.2 163.77 1115.2 164.36 1119.2 164.98 C1123.2 165.61 1127.2 166.26 1131.2 166.97 C1135.2 167.67 1139.97 168.57 1143.2 169.18 C1146.43 169.8 1146.13 169.7 1150.6 170.67 C1155.07 171.64 1163.67 173.31 1170 175 C1176.33 176.69 1183.43 178.92 1188.6 180.8 C1193.77 182.68 1197.2 184.3 1201 186.3 C1204.8 188.3 1209.67 191.72 1211.4 192.8 L1396.7 192.8" stroke="#2222f2" stroke-width="1.5" fill="none" stroke-linejoin="round"/>
<path d="M843.2 52.5 C845.7 52.57 853.2 52.73 858.2 52.9 C863.2 53.07 868.2 53.28 873.2 53.5 C878.2 53.72 883.2 53.95 888.2 54.2 C893.2 54.45 898.2 54.73 903.2 55 C908.2 55.27 913.2 55.5 918.2 55.8 C923.2 56.1 928.2 56.47 933.2 56.8 C938.2 57.13 943.2 57.43 948.2 57.8 C953.2 58.17 958.2 58.57 963.2 59 C968.2 59.43 973.2 59.9 978.2 60.4 C983.2 60.9 988.2 61.42 993.2 62 C998.2 62.58 1003.2 63.2 1008.2 63.9 C1013.2 64.6 1018.2 65.35 1023.2 66.2 C1028.2 67.05 1033.2 68 1038.2 69 C1043.2 70 1048.2 71.03 1053.2 72.2 C1058.2 73.37 1063.2 74.63 1068.2 76 C1073.2 77.37 1078.2 78.82 1083.2 80.4 C1088.2 81.98 1093.2 83.68 1098.2 85.5 C1103.2 87.32 1108.2 89.23 1113.2 91.3 C1118.2 93.37 1123.2 95.57 1128.2 97.9 C1133.2 100.23 1138.2 102.68 1143.2 105.3 C1148.2 107.92 1153.2 110.7 1158.2 113.6 C1163.2 116.5 1168.2 119.52 1173.2 122.7 C1178.2 125.88 1183.2 129.23 1188.2 132.7 C1193.2 136.17 1198.2 139.75 1203.2 143.5 C1208.2 147.25 1213.2 151.18 1218.2 155.2 C1223.2 159.22 1228.15 163.37 1233.2 167.6 C1238.25 171.83 1244.38 176.4 1248.5 180.6 C1252.62 184.8 1256.33 190.77 1257.9 192.8 L1396.7 192.8" stroke="#000000" stroke-width="1.5" fill="none" stroke-linejoin="round"/>
<path d="M843.2 203.9 C858.72 203.58 907.67 202.7 936.3 202 C964.93 201.3 994.53 200.58 1015 199.7 C1035.47 198.82 1047.43 197.55 1059.1 196.7 C1070.77 195.85 1076.8 195.25 1085 194.6 C1093.2 193.95 1104.42 193.1 1108.3 192.8 L1396.7 192.8" stroke="#e436ec" stroke-width="1.5" fill="none" stroke-linejoin="round"/>
<path d="M843.2 206.7 C858.72 206.45 907.67 205.62 936.3 205.2 C964.93 204.78 994.05 204.7 1015 204.2 C1035.95 203.7 1047.83 202.75 1062 202.2 C1076.17 201.65 1082.42 201.68 1100 200.9 C1117.58 200.12 1141.25 198.52 1167.5 197.5 C1193.75 196.48 1239.87 195.58 1257.5 194.8 C1275.13 194.02 1270.67 193.13 1273.3 192.8 L1396.7 192.8" stroke="#e02a2a" stroke-width="1.5" fill="none" stroke-linejoin="round"/>
<path d="M843.2 252.2 C858.58 251.6 906.05 249.98 935.5 248.6 C964.95 247.22 997.05 245.75 1019.9 243.9 C1042.75 242.05 1059.25 239.48 1072.6 237.5 C1085.95 235.52 1086.05 235.18 1100 232 C1113.95 228.82 1141.3 223.1 1156.3 218.4 C1171.3 213.7 1180.82 208.07 1190 203.8 C1199.18 199.53 1207.83 194.63 1211.4 192.8 L1396.7 192.8" stroke="#7cd444" stroke-width="1.5" fill="none" stroke-linejoin="round"/>
<path d="M843.2 256.4 C862.1 255.97 923.63 254.93 956.6 253.8 C989.57 252.67 1017.1 250.98 1041 249.6 C1064.9 248.22 1080.78 247.33 1100 245.5 C1119.22 243.67 1137.55 243.68 1156.3 238.6 C1175.05 233.52 1199.38 220.43 1212.5 215 C1225.62 209.57 1225.62 209.23 1235 206 C1244.38 202.77 1258.8 197.68 1268.8 195.6 C1278.8 193.52 1287.5 193.97 1295 193.5 C1302.5 193.03 1310.67 192.92 1313.8 192.8 L1396.7 192.8" stroke="#9dfcfc" stroke-width="1.5" fill="none" stroke-linejoin="round"/>
<path d="M843.2 285.1 C852.67 284.82 880.53 284.18 900 283.4 C919.47 282.62 945 281.4 960 280.4 C975 279.4 980.37 278.73 990 277.4 C999.63 276.07 1005.92 274.8 1017.8 272.4 C1029.68 270 1045.62 267.32 1061.3 263 C1076.98 258.68 1098.78 251.35 1111.9 246.5 C1125.02 241.65 1131.98 237.73 1140 233.9 C1148.02 230.07 1149.83 227.02 1160 223.5 C1170.17 219.98 1188.5 217.3 1201 212.8 C1213.5 208.3 1227.83 199.83 1235 196.5 C1242.17 193.17 1242.5 193.42 1244 192.8 L1396.7 192.8" stroke="#9dfcfc" stroke-width="1.5" fill="none" stroke-linejoin="round"/>
<path d="M843.2 223.2 C852.38 222.83 880.68 221.9 898.3 221 C915.92 220.1 936.67 218.75 948.9 217.8 C961.13 216.85 960.68 215.9 971.7 215.3 C982.72 214.7 1003.45 214.53 1015 214.2 C1026.55 213.87 1026.83 213.87 1041 213.3 C1055.17 212.73 1080.78 212.47 1100 210.8 C1119.22 209.13 1130.05 204.85 1156.3 203.3 C1182.55 201.75 1231.5 201.83 1257.5 201.5 C1283.5 201.17 1300 201.72 1312.3 201.3 C1324.6 200.88 1324.97 199.8 1331.3 199 C1337.63 198.2 1345.02 197.3 1350.3 196.5 C1355.58 195.7 1358.78 194.82 1363 194.2 C1367.22 193.58 1373.5 193.03 1375.6 192.8 L1396.7 192.8" stroke="#e02a2a" stroke-width="1.5" fill="none" stroke-linejoin="round"/>
<path d="M843.2 278.3 C858.58 278.02 909.57 277.33 935.5 276.6 C961.43 275.87 977.72 275.58 998.8 273.9 C1019.88 272.22 1045.13 268.57 1062 266.5 C1078.87 264.43 1088.73 263.18 1100 261.5 C1111.27 259.82 1118.35 258.9 1129.6 256.4 C1140.85 253.9 1153.68 251.72 1167.5 246.5 C1181.32 241.28 1199.37 232.6 1212.5 225.1 C1225.63 217.6 1236.92 206.63 1246.3 201.5 C1255.68 196.37 1263.18 195.75 1268.8 194.3 C1274.42 192.85 1278.13 193.05 1280 192.8 L1396.7 192.8" stroke="#e02a2a" stroke-width="1.5" fill="none" stroke-linejoin="round"/>
<path d="M843.2 286.5 C858.58 285.63 909.57 282.88 935.5 281.3 C961.43 279.72 977.72 279.12 998.8 277 C1019.88 274.88 1045.13 270.85 1062 268.6 C1078.87 266.35 1088.73 265.33 1100 263.5 C1111.27 261.67 1118.35 260.52 1129.6 257.6 C1140.85 254.68 1149.18 250.73 1167.5 246 C1185.82 241.27 1224.5 232.12 1239.5 229.2 C1254.5 226.28 1248.12 229.55 1257.5 228.5 C1266.88 227.45 1282.67 226.08 1295.8 222.9 C1308.93 219.72 1323.93 213.33 1336.3 209.4 C1348.67 205.47 1361.75 201.87 1370 199.3 C1378.25 196.73 1381.35 195.08 1385.8 194 C1390.25 192.92 1394.88 193 1396.7 192.8" stroke="#2222f2" stroke-width="1.5" fill="none" stroke-linejoin="round"/>
<path d="M1290 192.8 C1293.72 192.8 1303.97 192.35 1312.3 192.8 C1320.63 193.25 1329.88 194.67 1340 195.5 C1350.12 196.33 1365.38 197.47 1373 197.8 C1380.62 198.13 1381.75 198.33 1385.7 197.5 C1389.65 196.67 1394.87 193.58 1396.7 192.8" stroke="#000000" stroke-width="1.5" fill="none" stroke-linejoin="round"/>
<path d="M843.3 452.5 C856.9 451.7 903.38 449.55 924.9 447.7 C946.42 445.85 956.57 444.13 972.4 441.4 C988.23 438.67 1003.02 435.78 1019.9 431.3 C1036.78 426.82 1056.83 420.83 1073.7 414.5 C1090.57 408.17 1106.87 401.22 1121.1 393.3 C1135.33 385.38 1144.33 378.23 1159.1 367 C1173.87 355.77 1196.25 338.03 1209.7 325.9 C1223.15 313.77 1233.08 301.18 1239.8 294.2 C1246.52 287.22 1246.87 286.62 1250 284 C1253.13 281.38 1254.35 279.95 1258.6 278.5 C1262.85 277.05 1266.68 278.57 1275.5 275.3 C1284.32 272.03 1299.5 266.32 1311.5 258.9 C1323.5 251.48 1335.12 241.12 1347.5 230.8 C1359.88 220.48 1377.6 203.33 1385.8 197 C1394 190.67 1394.88 193.5 1396.7 192.8" stroke="#e02a2a" stroke-width="1.5" fill="none" stroke-linejoin="round"/>
<line x1="843.2" y1="192.8" x2="1268" y2="192.8" stroke="#000" stroke-width="1.5"/>
<line x1="1268" y1="192.8" x2="1396.7" y2="192.8" stroke="#e02a2a" stroke-width="1.5"/>
<rect x="821.4" y="36.6" width="597.1" height="431.6" fill="none" stroke="#1a1a1a" stroke-width="1.6"/>
<line x1="875.3" y1="31.6" x2="875.3" y2="36.6" stroke="#1a1a1a" stroke-width="1.6"/>
<text x="875.3" y="19.4" font-size="17.3" text-anchor="middle" fill="#000" transform="translate(875.3 19.4) scale(1 1.03) translate(-875.3 -19.4)" stroke="#000" stroke-width="0.22">19</text>
<line x1="875.3" y1="468.2" x2="875.3" y2="479.2" stroke="#1a1a1a" stroke-width="1.6"/>
<text x="875.3" y="506" font-size="17.3" text-anchor="middle" fill="#000" transform="translate(875.3 506) scale(1 1.03) translate(-875.3 -506)" stroke="#000" stroke-width="0.22">−8</text>
<line x1="974.4" y1="31.6" x2="974.4" y2="36.6" stroke="#1a1a1a" stroke-width="1.6"/>
<text x="974.4" y="19.4" font-size="17.3" text-anchor="middle" fill="#000" transform="translate(974.4 19.4) scale(1 1.03) translate(-974.4 -19.4)" stroke="#000" stroke-width="0.22">18</text>
<line x1="974.4" y1="468.2" x2="974.4" y2="479.2" stroke="#1a1a1a" stroke-width="1.6"/>
<text x="974.4" y="506" font-size="17.3" text-anchor="middle" fill="#000" transform="translate(974.4 506) scale(1 1.03) translate(-974.4 -506)" stroke="#000" stroke-width="0.22">−7</text>
<line x1="1073.5" y1="31.6" x2="1073.5" y2="36.6" stroke="#1a1a1a" stroke-width="1.6"/>
<text x="1073.5" y="19.4" font-size="17.3" text-anchor="middle" fill="#000" transform="translate(1073.5 19.4) scale(1 1.03) translate(-1073.5 -19.4)" stroke="#000" stroke-width="0.22">17</text>
<line x1="1073.5" y1="468.2" x2="1073.5" y2="479.2" stroke="#1a1a1a" stroke-width="1.6"/>
<text x="1073.5" y="506" font-size="17.3" text-anchor="middle" fill="#000" transform="translate(1073.5 506) scale(1 1.03) translate(-1073.5 -506)" stroke="#000" stroke-width="0.22">−6</text>
<line x1="1172.6" y1="31.6" x2="1172.6" y2="36.6" stroke="#1a1a1a" stroke-width="1.6"/>
<text x="1172.6" y="19.4" font-size="17.3" text-anchor="middle" fill="#000" transform="translate(1172.6 19.4) scale(1 1.03) translate(-1172.6 -19.4)" stroke="#000" stroke-width="0.22">13</text>
<line x1="1172.6" y1="468.2" x2="1172.6" y2="479.2" stroke="#1a1a1a" stroke-width="1.6"/>
<text x="1172.6" y="506" font-size="17.3" text-anchor="middle" fill="#000" transform="translate(1172.6 506) scale(1 1.03) translate(-1172.6 -506)" stroke="#000" stroke-width="0.22">−5</text>
<line x1="1271.7" y1="31.6" x2="1271.7" y2="36.6" stroke="#1a1a1a" stroke-width="1.6"/>
<text x="1271.7" y="19.4" font-size="17.3" text-anchor="middle" fill="#000" transform="translate(1271.7 19.4) scale(1 1.03) translate(-1271.7 -19.4)" stroke="#000" stroke-width="0.22">6</text>
<line x1="1271.7" y1="468.2" x2="1271.7" y2="479.2" stroke="#1a1a1a" stroke-width="1.6"/>
<text x="1271.7" y="506" font-size="17.3" text-anchor="middle" fill="#000" transform="translate(1271.7 506) scale(1 1.03) translate(-1271.7 -506)" stroke="#000" stroke-width="0.22">−4</text>
<line x1="1370.8" y1="31.6" x2="1370.8" y2="36.6" stroke="#1a1a1a" stroke-width="1.6"/>
<text x="1370.8" y="19.4" font-size="17.3" text-anchor="middle" fill="#000" transform="translate(1370.8 19.4) scale(1 1.03) translate(-1370.8 -19.4)" stroke="#000" stroke-width="0.22">4</text>
<line x1="1370.8" y1="468.2" x2="1370.8" y2="479.2" stroke="#1a1a1a" stroke-width="1.6"/>
<text x="1370.8" y="506" font-size="17.3" text-anchor="middle" fill="#000" transform="translate(1370.8 506) scale(1 1.03) translate(-1370.8 -506)" stroke="#000" stroke-width="0.22">−3</text>
<line x1="875.3" y1="468.2" x2="1370.8" y2="468.2" stroke="#1a1a1a" stroke-width="1.6"/>
<line x1="810.4" y1="67.1" x2="821.4" y2="67.1" stroke="#1a1a1a" stroke-width="1.6"/>
<text x="796.4" y="67.1" font-size="17.3" text-anchor="middle" fill="#000" transform="rotate(-90 796.4 67.1) translate(796.4 67.1) scale(1 1.03) translate(-796.4 -67.1)" stroke="#000" stroke-width="0.22">1.0</text>
<line x1="810.4" y1="130.05" x2="821.4" y2="130.05" stroke="#1a1a1a" stroke-width="1.6"/>
<text x="796.4" y="130.05" font-size="17.3" text-anchor="middle" fill="#000" transform="rotate(-90 796.4 130.05) translate(796.4 130.05) scale(1 1.03) translate(-796.4 -130.05)" stroke="#000" stroke-width="0.22">0.5</text>
<line x1="810.4" y1="193" x2="821.4" y2="193" stroke="#1a1a1a" stroke-width="1.6"/>
<text x="796.4" y="193" font-size="17.3" text-anchor="middle" fill="#000" transform="rotate(-90 796.4 193) translate(796.4 193) scale(1 1.03) translate(-796.4 -193)" stroke="#000" stroke-width="0.22">0.0</text>
<line x1="810.4" y1="255.95" x2="821.4" y2="255.95" stroke="#1a1a1a" stroke-width="1.6"/>
<text x="796.4" y="255.95" font-size="17.3" text-anchor="middle" fill="#000" transform="rotate(-90 796.4 255.95) translate(796.4 255.95) scale(1 1.03) translate(-796.4 -255.95)" stroke="#000" stroke-width="0.22">−0.5</text>
<line x1="810.4" y1="318.9" x2="821.4" y2="318.9" stroke="#1a1a1a" stroke-width="1.6"/>
<text x="796.4" y="318.9" font-size="17.3" text-anchor="middle" fill="#000" transform="rotate(-90 796.4 318.9) translate(796.4 318.9) scale(1 1.03) translate(-796.4 -318.9)" stroke="#000" stroke-width="0.22">−1.0</text>
<line x1="810.4" y1="381.85" x2="821.4" y2="381.85" stroke="#1a1a1a" stroke-width="1.6"/>
<text x="796.4" y="381.85" font-size="17.3" text-anchor="middle" fill="#000" transform="rotate(-90 796.4 381.85) translate(796.4 381.85) scale(1 1.03) translate(-796.4 -381.85)" stroke="#000" stroke-width="0.22">−1.5</text>
<line x1="810.4" y1="444.8" x2="821.4" y2="444.8" stroke="#1a1a1a" stroke-width="1.6"/>
<text x="796.4" y="444.8" font-size="17.3" text-anchor="middle" fill="#000" transform="rotate(-90 796.4 444.8) translate(796.4 444.8) scale(1 1.03) translate(-796.4 -444.8)" stroke="#000" stroke-width="0.22">−2.0</text>
<line x1="821.4" y1="67.1" x2="821.4" y2="444.8" stroke="#1a1a1a" stroke-width="1.6"/>
<text x="755.1" y="252.4" font-size="17.3" text-anchor="middle" fill="#000" transform="rotate(-90 755.1 252.4) translate(755.1 252.4) scale(1 1.03) translate(-755.1 -252.4)" stroke="#000" stroke-width="0.22">Coefficients</text>
<text x="1120" y="547.4" font-size="17.3" text-anchor="middle" fill="#000" transform="translate(1120 547.4) scale(1 1.03) translate(-1120 -547.4)" stroke="#000" stroke-width="0.22">Log Lambda</text>
<polyline points="103.3,702.5 104.7,668 106.3,873 107.5,912.7 108.9,882.9 110.3,943 112.6,980.3 114.5,999 115.7,1000 117.8,1024.6 122,1013 124.8,999.7 127.1,1020 130.1,1015.3 133.1,1016.5 134,1019.76 135.11,1023.42 136.22,1026.54 137.32,1029.69 138.43,1032.29 139.54,1033.33 140.64,1035.05 141.75,1036.95 142.86,1039.78 143.97,1042 145.07,1041.4 146.18,1039.42 147.29,1037.07 148.4,1036.69 149.5,1035.83 150.61,1036.47 151.72,1036.74 152.83,1037.43 153.94,1038.87 155.04,1039.58 156.15,1039.22 157.26,1038.42 158.37,1039.93 159.47,1040.7 160.58,1040.9 161.69,1041.04 162.79,1040.51 163.9,1041.47 165.01,1041.37 166.12,1041.64 167.22,1040.63 168.33,1039.87 169.44,1039.54 170.55,1039.38 171.66,1039.61 172.76,1039.44 173.87,1040.18 174.98,1041.63 176.08,1043.32 177.19,1045.73 178.3,1046.66 179.41,1048.17 180.51,1049.15 181.62,1048.97 182.73,1049.93 183.84,1050.91 184.94,1049.72 186.05,1049.98 187.16,1050.3 188.27,1050.14 189.38,1050.82 190.48,1051.07 191.59,1050.57 192.7,1051.62 193.81,1052.27 194.91,1052.91 196.02,1053.67 197.13,1053.63 198.24,1053.57 199.34,1052.7 200.45,1053.01 201.56,1052.46 202.66,1052.16 203.77,1051.47 204.88,1051.15 205.99,1051.14 207.09,1052.06 208.2,1050.72 209.31,1050.16 210.42,1050.69 211.52,1052.44 212.63,1053.34 213.74,1052.81 214.85,1052.45 215.95,1053.49 217.06,1053.28 218.17,1052.87 219.28,1053.72 220.38,1054.22 221.49,1053.94 222.6,1053.75 223.71,1053.68 224.81,1054.33 225.92,1054.5 227.03,1054.66 228.14,1054.88 229.25,1053.96 230.35,1055.1 231.46,1055.71 232.57,1056.16 233.68,1055.25 234.78,1055.64 235.89,1056.88 237,1056.36 238.11,1057.14 239.21,1058.67 240.32,1058.69 241.43,1060.64 242.53,1061.55 243.64,1062.03 244.75,1062.9 245.86,1063.83 246.96,1064.18 248.07,1065.15 249.18,1064.8 250.29,1064.13 251.39,1064.38 252.5,1063.82 253.61,1062.83 254.72,1063.09 255.82,1063.38 256.93,1062.35 258.04,1061.26 259.15,1061.27 260.25,1061.22 261.36,1061.05 262.47,1061.84 263.58,1060.92 264.68,1061.57 265.79,1060.52 266.9,1060.14 268.01,1060.71 269.11,1061.32 270.22,1061.62 271.33,1061.93 272.44,1062.19 273.54,1062.53 274.65,1063.15 275.76,1063.16 276.87,1062.74 277.97,1062.45 279.08,1061.77 280.19,1061.59 281.3,1061.18 282.4,1061.91 283.51,1062.04 284.62,1061.92 285.73,1062.11 286.83,1062.83 287.94,1064.22 289.05,1064.72 290.16,1065.77 291.26,1067.55 292.37,1065.98 293.48,1065.4 294.59,1065.71 295.69,1065.89 296.8,1066.39 297.91,1066.67 299.02,1067.44 300.12,1066.97 301.23,1066.03 302.34,1066.87 303.45,1066.03 304.55,1065.47 305.66,1065.75 306.77,1066.03 307.88,1066.56 308.98,1065.72 310.09,1066.7 311.2,1067.97 312.31,1066.91 313.41,1066.7 314.52,1066.94 315.63,1066.84 316.74,1067.22 317.84,1066.25 318.95,1066.59 320.06,1066.85 321.17,1066.91 322.27,1067.02 323.38,1064.83 324.49,1066.27 325.6,1065.91 326.7,1066.76 327.81,1065.65 328.92,1065.78 330.03,1066.28 331.13,1065.7 332.24,1065.41 333.35,1065.47 334.46,1065.52 335.56,1065.5 336.67,1066.46 337.78,1066.85 338.89,1066.43 339.99,1068.11 341.1,1067.13 342.21,1067.83 343.32,1067.76 344.42,1067.57 345.53,1067.32 346.64,1066.69 347.75,1066.33 348.85,1064.74 349.96,1064.23 351.07,1065.16 352.18,1064.9 353.28,1064.76 354.39,1064.49 355.5,1065.44 356.61,1065.59 357.71,1065.96 358.82,1064.85 359.93,1065.13 361.04,1064.8 362.14,1065.78 363.25,1066.66 364.36,1065.44 365.47,1065.9 366.57,1065.72 367.68,1065.11 368.79,1063.91 369.9,1065.09 371,1065.01 372.11,1064.52 373.22,1064.66 374.33,1064.68 375.44,1065.22 376.54,1064.09 377.65,1064.42 378.76,1064.64 379.86,1064.62 380.97,1063.58 382.08,1062.51 383.19,1062.68 384.29,1062.13 385.4,1061.66 386.51,1061.94 387.62,1061.45 388.72,1060.15 389.83,1060.47 390.94,1059.91 392.05,1061.1 393.15,1061.47 394.26,1061.12 395.37,1061.22 396.48,1061.72 397.58,1061.71 398.69,1062.44 399.8,1062.15 400.91,1062.62 402.01,1063.19 403.12,1063.63 404.23,1062.68 405.34,1062.96 406.44,1061.54 407.55,1061.11 408.66,1060.35 409.77,1061.55 410.88,1060.93 411.98,1061.03 413.09,1060.88 414.2,1060.79 415.3,1060.43 416.41,1060.81 417.52,1061.93 418.63,1061.66 419.73,1061.78 420.84,1062.24 421.95,1062.11 423.06,1061.6 424.16,1061.82 425.27,1062.99 426.38,1062.22 427.49,1062.09 428.59,1062.85 429.7,1063.14 430.81,1063.03 431.92,1063.65 433.02,1063.79 434.13,1063.26 435.24,1062.84 436.35,1063.22 437.45,1064.4 438.56,1063.99 439.67,1063.5 440.78,1063.22 441.88,1062.58 442.99,1062.92 444.1,1062.47 445.21,1062.98 446.31,1061.73 447.42,1062.39 448.53,1062.19 449.64,1061.62 450.74,1062.85 451.85,1063.11 452.96,1062.27 454.07,1062.59 455.17,1063.48 456.28,1063.67 457.39,1064.54 458.5,1065.11 459.6,1065.48 460.71,1065.18 461.82,1065.32 462.93,1064.88 464.03,1064.35 465.14,1062.49 466.25,1062.98 467.36,1063.47 468.46,1062.81 469.57,1062.24 470.68,1063.15 471.79,1061.58 472.89,1062.09 474,1063.59 475.11,1062.71 476.22,1063.15 477.32,1063.84 478.43,1063.08 479.54,1062.94 480.65,1062.99 481.75,1061.97 482.86,1061.74 483.97,1061.76 485.08,1062.35 486.18,1062.32 487.29,1062.29 488.4,1061.91 489.51,1062.12 490.61,1063.02 491.72,1063.21 492.83,1062.88 493.94,1062.7 495.04,1064.55 496.15,1064.86 497.26,1064.82 498.37,1063.06 499.47,1063.81 500.58,1064.23 501.69,1065.17 502.8,1065.08 503.9,1064.8 505.01,1064.99 506.12,1063.78 507.23,1064.74 508.33,1064.96 509.44,1064.56 510.55,1065.48 511.66,1066.33 512.76,1065.12 513.87,1064.83 514.98,1065.17 516.09,1065.31 517.19,1065.08 518.3,1064.63 519.41,1066.07 520.52,1066.35 521.62,1065.3 522.73,1064.59 523.84,1065.85 524.95,1066.22 526.05,1066.81 527.16,1066.48 528.27,1065.28 529.38,1065.12 530.48,1063.61 531.59,1063.56 532.7,1064.08 533.81,1064.76 534.91,1064.54 536.02,1064.8 537.13,1065.34 538.24,1065.67 539.34,1066.07 540.45,1065.9 541.56,1065.44 542.67,1065.72 543.77,1065.44 544.88,1064.73 545.99,1064.37 547.1,1064.45 548.2,1064.39 549.31,1064.45 550.42,1064.41 551.53,1064.47 552.63,1064.31 553.74,1063.58 554.85,1064.04 555.96,1064.64 557.06,1064.64 558.17,1064.27 559.28,1064.38 560.39,1063.64 561.49,1062.67 562.6,1063.14 563.71,1062.9 564.82,1063.85 565.92,1063.49 567.03,1062.5 568.14,1062.84 569.25,1064.56 570.35,1064.58 571.46,1063.94 572.57,1063.86 573.68,1064.51 574.78,1064.87 575.89,1064.9 577,1065.62 578.11,1065.62 579.21,1065.2 580.32,1065.28 581.43,1065.89 582.54,1065.87 583.64,1065.88 584.75,1064.74 585.86,1064.66 586.97,1065.13 588.07,1064.89 589.18,1065.53 590.29,1065.69 591.4,1066 592.5,1065.6 593.61,1066.76 594.72,1066.59 595.83,1065.62 596.93,1065.13 598.04,1066.14 599.15,1065.05 600.26,1065 601.36,1064.95 602.47,1064.72 603.58,1064.04 604.69,1064.47 605.79,1064.86 606.9,1065.32 608.01,1065.38 609.12,1064.95 610.22,1065.12 611.33,1065.01 612.44,1064.73 613.55,1064.44 614.65,1064.07 615.76,1064.32 616.87,1063.48 617.98,1063.28 619.08,1063.52 620.19,1062.87 621.3,1063.05 622.41,1062.3 623.51,1062.59 624.62,1063.47 625.73,1064 626.84,1063.97 627.94,1063.81 629.05,1063.03 630.16,1064.33 631.27,1064.37 632.37,1064.7 633.48,1063.78 634.59,1063.6 635.7,1062.57 636.8,1063.36 637.91,1063.9 639.02,1062.79 640.13,1063.18 641.23,1063.83 642.34,1062.94 643.45,1062.42 644.56,1062.28 645.66,1062.33 646.77,1061.85 647.88,1062.26 648.99,1062.53 650.09,1062.83 651.2,1063.09 652.31,1063.82 653.42,1064.1 654.52,1062.95 655.63,1062.73" stroke="#111" stroke-width="1.4" fill="none" stroke-linejoin="round"/>
<rect x="81.6" y="652.6" width="597.4" height="431.8" fill="none" stroke="#1a1a1a" stroke-width="1.6"/>
<line x1="102.3" y1="1084.4" x2="102.3" y2="1094.9" stroke="#1a1a1a" stroke-width="1.6"/>
<text x="102.3" y="1122.3" font-size="17.3" text-anchor="middle" fill="#000" transform="translate(102.3 1122.3) scale(1 1.03) translate(-102.3 -1122.3)" stroke="#000" stroke-width="0.22">0</text>
<line x1="213.05" y1="1084.4" x2="213.05" y2="1094.9" stroke="#1a1a1a" stroke-width="1.6"/>
<text x="213.05" y="1122.3" font-size="17.3" text-anchor="middle" fill="#000" transform="translate(213.05 1122.3) scale(1 1.03) translate(-213.05 -1122.3)" stroke="#000" stroke-width="0.22">100</text>
<line x1="323.8" y1="1084.4" x2="323.8" y2="1094.9" stroke="#1a1a1a" stroke-width="1.6"/>
<text x="323.8" y="1122.3" font-size="17.3" text-anchor="middle" fill="#000" transform="translate(323.8 1122.3) scale(1 1.03) translate(-323.8 -1122.3)" stroke="#000" stroke-width="0.22">200</text>
<line x1="434.55" y1="1084.4" x2="434.55" y2="1094.9" stroke="#1a1a1a" stroke-width="1.6"/>
<text x="434.55" y="1122.3" font-size="17.3" text-anchor="middle" fill="#000" transform="translate(434.55 1122.3) scale(1 1.03) translate(-434.55 -1122.3)" stroke="#000" stroke-width="0.22">300</text>
<line x1="545.3" y1="1084.4" x2="545.3" y2="1094.9" stroke="#1a1a1a" stroke-width="1.6"/>
<text x="545.3" y="1122.3" font-size="17.3" text-anchor="middle" fill="#000" transform="translate(545.3 1122.3) scale(1 1.03) translate(-545.3 -1122.3)" stroke="#000" stroke-width="0.22">400</text>
<line x1="656.05" y1="1084.4" x2="656.05" y2="1094.9" stroke="#1a1a1a" stroke-width="1.6"/>
<text x="656.05" y="1122.3" font-size="17.3" text-anchor="middle" fill="#000" transform="translate(656.05 1122.3) scale(1 1.03) translate(-656.05 -1122.3)" stroke="#000" stroke-width="0.22">500</text>
<line x1="102.3" y1="1084.4" x2="656.05" y2="1084.4" stroke="#1a1a1a" stroke-width="1.6"/>
<line x1="70.6" y1="779.8" x2="81.6" y2="779.8" stroke="#1a1a1a" stroke-width="1.6"/>
<text x="56.9" y="779.8" font-size="17.3" text-anchor="middle" fill="#000" transform="rotate(-90 56.9 779.8) translate(56.9 779.8) scale(1 1.03) translate(-56.9 -779.8)" stroke="#000" stroke-width="0.22">0.30</text>
<line x1="70.6" y1="907.2" x2="81.6" y2="907.2" stroke="#1a1a1a" stroke-width="1.6"/>
<text x="56.9" y="907.2" font-size="17.3" text-anchor="middle" fill="#000" transform="rotate(-90 56.9 907.2) translate(56.9 907.2) scale(1 1.03) translate(-56.9 -907.2)" stroke="#000" stroke-width="0.22">0.25</text>
<line x1="70.6" y1="1034.6" x2="81.6" y2="1034.6" stroke="#1a1a1a" stroke-width="1.6"/>
<text x="56.9" y="1034.6" font-size="17.3" text-anchor="middle" fill="#000" transform="rotate(-90 56.9 1034.6) translate(56.9 1034.6) scale(1 1.03) translate(-56.9 -1034.6)" stroke="#000" stroke-width="0.22">0.20</text>
<line x1="81.6" y1="779.8" x2="81.6" y2="1034.6" stroke="#1a1a1a" stroke-width="1.6"/>
<text x="15.2" y="868.3" font-size="17.3" text-anchor="middle" fill="#000" transform="rotate(-90 15.2 868.3) translate(15.2 868.3) scale(1 1.03) translate(-15.2 -868.3)" stroke="#000" stroke-width="0.22">Error</text>
<text x="380.3" y="1163.5" font-size="17.3" text-anchor="middle" fill="#000" transform="translate(380.3 1163.5) scale(1 1.03) translate(-380.3 -1163.5)" stroke="#000" stroke-width="0.22">trees</text>
<text x="380.3" y="617.8" font-size="20" text-anchor="middle" fill="#000" font-weight="bold">rf.pros</text>
<line x1="884.6" y1="673.3" x2="1417.8" y2="673.3" stroke="#c8c8c8" stroke-width="1.1" stroke-dasharray="1.1 3.23"/>
<text x="780.08" y="679.3" font-size="17.3" text-anchor="start" fill="#000" transform="translate(780.08 679.3) scale(1 1.03) translate(-780.08 -679.3)" stroke="#000" stroke-width="0.22">HLA<tspan dy="-1.5">–</tspan><tspan dy="1.5">E</tspan></text>
<line x1="884.6" y1="693.85" x2="1417.8" y2="693.85" stroke="#c8c8c8" stroke-width="1.1" stroke-dasharray="1.1 3.23"/>
<text x="780.08" y="699.85" font-size="17.3" text-anchor="start" fill="#000" transform="translate(780.08 699.85) scale(1 1.03) translate(-780.08 -699.85)" stroke="#000" stroke-width="0.22">HLA<tspan dy="-1.5">–</tspan><tspan dy="1.5">B</tspan></text>
<line x1="884.6" y1="714.4" x2="1417.8" y2="714.4" stroke="#c8c8c8" stroke-width="1.1" stroke-dasharray="1.1 3.23"/>
<text x="780.08" y="720.4" font-size="17.3" text-anchor="start" fill="#000" transform="translate(780.08 720.4) scale(1 1.03) translate(-780.08 -720.4)" stroke="#000" stroke-width="0.22">HLA<tspan dy="-1.5">–</tspan><tspan dy="1.5">DRB1</tspan></text>
<line x1="884.6" y1="734.95" x2="1417.8" y2="734.95" stroke="#c8c8c8" stroke-width="1.1" stroke-dasharray="1.1 3.23"/>
<text x="780.08" y="740.95" font-size="17.3" text-anchor="start" fill="#000" transform="translate(780.08 740.95) scale(1 1.03) translate(-780.08 -740.95)" stroke="#000" stroke-width="0.22">HLA<tspan dy="-1.5">–</tspan><tspan dy="1.5">DQA1</tspan></text>
<line x1="884.6" y1="755.5" x2="1417.8" y2="755.5" stroke="#c8c8c8" stroke-width="1.1" stroke-dasharray="1.1 3.23"/>
<text x="780.08" y="761.5" font-size="17.3" text-anchor="start" fill="#000" transform="translate(780.08 761.5) scale(1 1.03) translate(-780.08 -761.5)" stroke="#000" stroke-width="0.22">TAP1</text>
<line x1="884.6" y1="776.05" x2="1417.8" y2="776.05" stroke="#c8c8c8" stroke-width="1.1" stroke-dasharray="1.1 3.23"/>
<text x="780.08" y="782.05" font-size="17.3" text-anchor="start" fill="#000" transform="translate(780.08 782.05) scale(1 1.03) translate(-780.08 -782.05)" stroke="#000" stroke-width="0.22">HLA<tspan dy="-1.5">–</tspan><tspan dy="1.5">DMA</tspan></text>
<line x1="884.6" y1="796.6" x2="1417.8" y2="796.6" stroke="#c8c8c8" stroke-width="1.1" stroke-dasharray="1.1 3.23"/>
<text x="780.08" y="802.6" font-size="17.3" text-anchor="start" fill="#000" transform="translate(780.08 802.6) scale(1 1.03) translate(-780.08 -802.6)" stroke="#000" stroke-width="0.22">HLA<tspan dy="-1.5">–</tspan><tspan dy="1.5">DRB5</tspan></text>
<line x1="884.6" y1="817.15" x2="1417.8" y2="817.15" stroke="#c8c8c8" stroke-width="1.1" stroke-dasharray="1.1 3.23"/>
<text x="780.08" y="823.15" font-size="17.3" text-anchor="start" fill="#000" transform="translate(780.08 823.15) scale(1 1.03) translate(-780.08 -823.15)" stroke="#000" stroke-width="0.22">HLA<tspan dy="-1.5">–</tspan><tspan dy="1.5">DQB1</tspan></text>
<line x1="884.6" y1="837.7" x2="1417.8" y2="837.7" stroke="#c8c8c8" stroke-width="1.1" stroke-dasharray="1.1 3.23"/>
<text x="780.08" y="843.7" font-size="17.3" text-anchor="start" fill="#000" transform="translate(780.08 843.7) scale(1 1.03) translate(-780.08 -843.7)" stroke="#000" stroke-width="0.22">HLA<tspan dy="-1.5">–</tspan><tspan dy="1.5">F</tspan></text>
<line x1="884.6" y1="858.25" x2="1417.8" y2="858.25" stroke="#c8c8c8" stroke-width="1.1" stroke-dasharray="1.1 3.23"/>
<text x="780.08" y="864.25" font-size="17.3" text-anchor="start" fill="#000" transform="translate(780.08 864.25) scale(1 1.03) translate(-780.08 -864.25)" stroke="#000" stroke-width="0.22">TAP2</text>
<line x1="884.6" y1="878.8" x2="1417.8" y2="878.8" stroke="#c8c8c8" stroke-width="1.1" stroke-dasharray="1.1 3.23"/>
<text x="780.08" y="884.8" font-size="17.3" text-anchor="start" fill="#000" transform="translate(780.08 884.8) scale(1 1.03) translate(-780.08 -884.8)" stroke="#000" stroke-width="0.22">HLA<tspan dy="-1.5">–</tspan><tspan dy="1.5">DOA</tspan></text>
<line x1="884.6" y1="899.35" x2="1417.8" y2="899.35" stroke="#c8c8c8" stroke-width="1.1" stroke-dasharray="1.1 3.23"/>
<text x="780.08" y="905.35" font-size="17.3" text-anchor="start" fill="#000" transform="translate(780.08 905.35) scale(1 1.03) translate(-780.08 -905.35)" stroke="#000" stroke-width="0.22">HLA<tspan dy="-1.5">–</tspan><tspan dy="1.5">DOB</tspan></text>
<line x1="884.6" y1="919.9" x2="1417.8" y2="919.9" stroke="#c8c8c8" stroke-width="1.1" stroke-dasharray="1.1 3.23"/>
<text x="780.08" y="925.9" font-size="17.3" text-anchor="start" fill="#000" transform="translate(780.08 925.9) scale(1 1.03) translate(-780.08 -925.9)" stroke="#000" stroke-width="0.22">HLA<tspan dy="-1.5">–</tspan><tspan dy="1.5">DMB</tspan></text>
<line x1="884.6" y1="940.45" x2="1417.8" y2="940.45" stroke="#c8c8c8" stroke-width="1.1" stroke-dasharray="1.1 3.23"/>
<text x="780.08" y="946.45" font-size="17.3" text-anchor="start" fill="#000" transform="translate(780.08 946.45) scale(1 1.03) translate(-780.08 -946.45)" stroke="#000" stroke-width="0.22">HLA<tspan dy="-1.5">–</tspan><tspan dy="1.5">DPA1</tspan></text>
<line x1="884.6" y1="961" x2="1417.8" y2="961" stroke="#c8c8c8" stroke-width="1.1" stroke-dasharray="1.1 3.23"/>
<text x="780.08" y="967" font-size="17.3" text-anchor="start" fill="#000" transform="translate(780.08 967) scale(1 1.03) translate(-780.08 -967)" stroke="#000" stroke-width="0.22">HLA<tspan dy="-1.5">–</tspan><tspan dy="1.5">C</tspan></text>
<line x1="884.6" y1="981.55" x2="1417.8" y2="981.55" stroke="#c8c8c8" stroke-width="1.1" stroke-dasharray="1.1 3.23"/>
<text x="780.08" y="987.55" font-size="17.3" text-anchor="start" fill="#000" transform="translate(780.08 987.55) scale(1 1.03) translate(-780.08 -987.55)" stroke="#000" stroke-width="0.22">HLA<tspan dy="-1.5">–</tspan><tspan dy="1.5">A</tspan></text>
<line x1="884.6" y1="1002.1" x2="1417.8" y2="1002.1" stroke="#c8c8c8" stroke-width="1.1" stroke-dasharray="1.1 3.23"/>
<text x="780.08" y="1008.1" font-size="17.3" text-anchor="start" fill="#000" transform="translate(780.08 1008.1) scale(1 1.03) translate(-780.08 -1008.1)" stroke="#000" stroke-width="0.22">TAPBP</text>
<line x1="884.6" y1="1022.65" x2="1417.8" y2="1022.65" stroke="#c8c8c8" stroke-width="1.1" stroke-dasharray="1.1 3.23"/>
<text x="780.08" y="1028.65" font-size="17.3" text-anchor="start" fill="#000" transform="translate(780.08 1028.65) scale(1 1.03) translate(-780.08 -1028.65)" stroke="#000" stroke-width="0.22">HLA<tspan dy="-1.5">–</tspan><tspan dy="1.5">DRA</tspan></text>
<line x1="884.6" y1="1043.2" x2="1417.8" y2="1043.2" stroke="#c8c8c8" stroke-width="1.1" stroke-dasharray="1.1 3.23"/>
<text x="780.08" y="1049.2" font-size="17.3" text-anchor="start" fill="#000" transform="translate(780.08 1049.2) scale(1 1.03) translate(-780.08 -1049.2)" stroke="#000" stroke-width="0.22">HLA<tspan dy="-1.5">–</tspan><tspan dy="1.5">DPB1</tspan></text>
<line x1="884.6" y1="1063.75" x2="1417.8" y2="1063.75" stroke="#c8c8c8" stroke-width="1.1" stroke-dasharray="1.1 3.23"/>
<text x="780.08" y="1069.75" font-size="17.3" text-anchor="start" fill="#000" transform="translate(780.08 1069.75) scale(1 1.03) translate(-780.08 -1069.75)" stroke="#000" stroke-width="0.22">HLA<tspan dy="-1.5">–</tspan><tspan dy="1.5">H</tspan></text>
<circle cx="1398.9" cy="673.3" r="3.75" fill="none" stroke="#111" stroke-width="1.35"/>
<circle cx="1341.8" cy="693.85" r="3.75" fill="none" stroke="#111" stroke-width="1.35"/>
<circle cx="1333.2" cy="714.4" r="3.75" fill="none" stroke="#111" stroke-width="1.35"/>
<circle cx="1320.3" cy="734.95" r="3.75" fill="none" stroke="#111" stroke-width="1.35"/>
<circle cx="1307.4" cy="755.5" r="3.75" fill="none" stroke="#111" stroke-width="1.35"/>
<circle cx="1281.2" cy="776.05" r="3.75" fill="none" stroke="#111" stroke-width="1.35"/>
<circle cx="1253.8" cy="796.6" r="3.75" fill="none" stroke="#111" stroke-width="1.35"/>
<circle cx="1252.4" cy="817.15" r="3.75" fill="none" stroke="#111" stroke-width="1.35"/>
<circle cx="1244.9" cy="837.7" r="3.75" fill="none" stroke="#111" stroke-width="1.35"/>
<circle cx="1241.5" cy="858.25" r="3.75" fill="none" stroke="#111" stroke-width="1.35"/>
<circle cx="1240.6" cy="878.8" r="3.75" fill="none" stroke="#111" stroke-width="1.35"/>
<circle cx="1240.6" cy="899.35" r="3.75" fill="none" stroke="#111" stroke-width="1.35"/>
<circle cx="1225.9" cy="919.9" r="3.75" fill="none" stroke="#111" stroke-width="1.35"/>
<circle cx="1220" cy="940.45" r="3.75" fill="none" stroke="#111" stroke-width="1.35"/>
<circle cx="1209.6" cy="961" r="3.75" fill="none" stroke="#111" stroke-width="1.35"/>
<circle cx="1208.5" cy="981.55" r="3.75" fill="none" stroke="#111" stroke-width="1.35"/>
<circle cx="1181.7" cy="1002.1" r="3.75" fill="none" stroke="#111" stroke-width="1.35"/>
<circle cx="1172.9" cy="1022.65" r="3.75" fill="none" stroke="#111" stroke-width="1.35"/>
<circle cx="1170" cy="1043.2" r="3.75" fill="none" stroke="#111" stroke-width="1.35"/>
<circle cx="1157.5" cy="1063.75" r="3.75" fill="none" stroke="#111" stroke-width="1.35"/>
<rect x="881" y="652.7" width="537.8" height="431.5" fill="none" stroke="#1a1a1a" stroke-width="1.6"/>
<line x1="900.9" y1="1084.2" x2="900.9" y2="1094.7" stroke="#1a1a1a" stroke-width="1.6"/>
<text x="900.9" y="1122.3" font-size="17.3" text-anchor="middle" fill="#000" transform="translate(900.9 1122.3) scale(1 1.03) translate(-900.9 -1122.3)" stroke="#000" stroke-width="0.22">0.0</text>
<line x1="1001.8" y1="1084.2" x2="1001.8" y2="1094.7" stroke="#1a1a1a" stroke-width="1.6"/>
<text x="1001.8" y="1122.3" font-size="17.3" text-anchor="middle" fill="#000" transform="translate(1001.8 1122.3) scale(1 1.03) translate(-1001.8 -1122.3)" stroke="#000" stroke-width="0.22">0.5</text>
<line x1="1102.7" y1="1084.2" x2="1102.7" y2="1094.7" stroke="#1a1a1a" stroke-width="1.6"/>
<text x="1102.7" y="1122.3" font-size="17.3" text-anchor="middle" fill="#000" transform="translate(1102.7 1122.3) scale(1 1.03) translate(-1102.7 -1122.3)" stroke="#000" stroke-width="0.22">1.0</text>
<line x1="1203.6" y1="1084.2" x2="1203.6" y2="1094.7" stroke="#1a1a1a" stroke-width="1.6"/>
<text x="1203.6" y="1122.3" font-size="17.3" text-anchor="middle" fill="#000" transform="translate(1203.6 1122.3) scale(1 1.03) translate(-1203.6 -1122.3)" stroke="#000" stroke-width="0.22">1.5</text>
<line x1="1304.5" y1="1084.2" x2="1304.5" y2="1094.7" stroke="#1a1a1a" stroke-width="1.6"/>
<text x="1304.5" y="1122.3" font-size="17.3" text-anchor="middle" fill="#000" transform="translate(1304.5 1122.3) scale(1 1.03) translate(-1304.5 -1122.3)" stroke="#000" stroke-width="0.22">2.0</text>
<line x1="1405.4" y1="1084.2" x2="1405.4" y2="1094.7" stroke="#1a1a1a" stroke-width="1.6"/>
<text x="1405.4" y="1122.3" font-size="17.3" text-anchor="middle" fill="#000" transform="translate(1405.4 1122.3) scale(1 1.03) translate(-1405.4 -1122.3)" stroke="#000" stroke-width="0.22">2.5</text>
<line x1="900.9" y1="1084.2" x2="1405.4" y2="1084.2" stroke="#1a1a1a" stroke-width="1.6"/>
<text x="1150" y="1163.5" font-size="17.3" text-anchor="middle" fill="#000" transform="translate(1150 1163.5) scale(1 1.03) translate(-1150 -1163.5)" stroke="#000" stroke-width="0.22">IncNodePurity</text>
<text x="1150.1" y="617.4" font-size="20.2" text-anchor="middle" fill="#000" font-weight="bold">Variable Importance Plot − HLA</text>
<rect x="554.7" y="1259.8" width="19.6" height="469.5" fill="#3b3b3b" stroke="none" stroke-width="1.3"/>
<text x="564.5" y="1249.5" font-size="14.6" text-anchor="middle" fill="#2a2a2a" transform="translate(564.5 1249.5) scale(1 1.03) translate(-564.5 -1249.5)" stroke="#2a2a2a" stroke-width="0.22">6</text>
<rect x="588.15" y="1572.8" width="19.6" height="156.5" fill="#3b3b3b" stroke="none" stroke-width="1.3"/>
<text x="597.95" y="1562.5" font-size="14.6" text-anchor="middle" fill="#2a2a2a" transform="translate(597.95 1562.5) scale(1 1.03) translate(-597.95 -1562.5)" stroke="#2a2a2a" stroke-width="0.22">2</text>
<rect x="621.59" y="1651.05" width="19.6" height="78.25" fill="#3b3b3b" stroke="none" stroke-width="1.3"/>
<text x="631.39" y="1640.75" font-size="14.6" text-anchor="middle" fill="#2a2a2a" transform="translate(631.39 1640.75) scale(1 1.03) translate(-631.39 -1640.75)" stroke="#2a2a2a" stroke-width="0.22">1</text>
<rect x="655.04" y="1651.05" width="19.6" height="78.25" fill="#3b3b3b" stroke="none" stroke-width="1.3"/>
<text x="664.84" y="1640.75" font-size="14.6" text-anchor="middle" fill="#2a2a2a" transform="translate(664.84 1640.75) scale(1 1.03) translate(-664.84 -1640.75)" stroke="#2a2a2a" stroke-width="0.22">1</text>
<rect x="688.48" y="1651.05" width="19.6" height="78.25" fill="#3b3b3b" stroke="none" stroke-width="1.3"/>
<text x="698.28" y="1640.75" font-size="14.6" text-anchor="middle" fill="#2a2a2a" transform="translate(698.28 1640.75) scale(1 1.03) translate(-698.28 -1640.75)" stroke="#2a2a2a" stroke-width="0.22">1</text>
<rect x="721.93" y="1651.05" width="19.6" height="78.25" fill="#3b3b3b" stroke="none" stroke-width="1.3"/>
<text x="731.73" y="1640.75" font-size="14.6" text-anchor="middle" fill="#2a2a2a" transform="translate(731.73 1640.75) scale(1 1.03) translate(-731.73 -1640.75)" stroke="#2a2a2a" stroke-width="0.22">1</text>
<rect x="755.37" y="1651.05" width="19.6" height="78.25" fill="#3b3b3b" stroke="none" stroke-width="1.3"/>
<text x="765.17" y="1640.75" font-size="14.6" text-anchor="middle" fill="#2a2a2a" transform="translate(765.17 1640.75) scale(1 1.03) translate(-765.17 -1640.75)" stroke="#2a2a2a" stroke-width="0.22">1</text>
<rect x="788.82" y="1651.05" width="19.6" height="78.25" fill="#3b3b3b" stroke="none" stroke-width="1.3"/>
<text x="798.62" y="1640.75" font-size="14.6" text-anchor="middle" fill="#2a2a2a" transform="translate(798.62 1640.75) scale(1 1.03) translate(-798.62 -1640.75)" stroke="#2a2a2a" stroke-width="0.22">1</text>
<rect x="822.26" y="1651.05" width="19.6" height="78.25" fill="#3b3b3b" stroke="none" stroke-width="1.3"/>
<text x="832.06" y="1640.75" font-size="14.6" text-anchor="middle" fill="#2a2a2a" transform="translate(832.06 1640.75) scale(1 1.03) translate(-832.06 -1640.75)" stroke="#2a2a2a" stroke-width="0.22">1</text>
<rect x="855.71" y="1651.05" width="19.6" height="78.25" fill="#3b3b3b" stroke="none" stroke-width="1.3"/>
<text x="865.5" y="1640.75" font-size="14.6" text-anchor="middle" fill="#2a2a2a" transform="translate(865.5 1640.75) scale(1 1.03) translate(-865.5 -1640.75)" stroke="#2a2a2a" stroke-width="0.22">1</text>
<rect x="889.15" y="1651.05" width="19.6" height="78.25" fill="#3b3b3b" stroke="none" stroke-width="1.3"/>
<text x="898.95" y="1640.75" font-size="14.6" text-anchor="middle" fill="#2a2a2a" transform="translate(898.95 1640.75) scale(1 1.03) translate(-898.95 -1640.75)" stroke="#2a2a2a" stroke-width="0.22">1</text>
<rect x="922.6" y="1651.05" width="19.6" height="78.25" fill="#3b3b3b" stroke="none" stroke-width="1.3"/>
<text x="932.39" y="1640.75" font-size="14.6" text-anchor="middle" fill="#2a2a2a" transform="translate(932.39 1640.75) scale(1 1.03) translate(-932.39 -1640.75)" stroke="#2a2a2a" stroke-width="0.22">1</text>
<rect x="956.04" y="1651.05" width="19.6" height="78.25" fill="#3b3b3b" stroke="none" stroke-width="1.3"/>
<text x="965.84" y="1640.75" font-size="14.6" text-anchor="middle" fill="#2a2a2a" transform="translate(965.84 1640.75) scale(1 1.03) translate(-965.84 -1640.75)" stroke="#2a2a2a" stroke-width="0.22">1</text>
<rect x="989.49" y="1651.05" width="19.6" height="78.25" fill="#3b3b3b" stroke="none" stroke-width="1.3"/>
<text x="999.29" y="1640.75" font-size="14.6" text-anchor="middle" fill="#2a2a2a" transform="translate(999.29 1640.75) scale(1 1.03) translate(-999.29 -1640.75)" stroke="#2a2a2a" stroke-width="0.22">1</text>
<rect x="1022.93" y="1651.05" width="19.6" height="78.25" fill="#3b3b3b" stroke="none" stroke-width="1.3"/>
<text x="1032.73" y="1640.75" font-size="14.6" text-anchor="middle" fill="#2a2a2a" transform="translate(1032.73 1640.75) scale(1 1.03) translate(-1032.73 -1640.75)" stroke="#2a2a2a" stroke-width="0.22">1</text>
<rect x="1056.38" y="1651.05" width="19.6" height="78.25" fill="#3b3b3b" stroke="none" stroke-width="1.3"/>
<text x="1066.17" y="1640.75" font-size="14.6" text-anchor="middle" fill="#2a2a2a" transform="translate(1066.17 1640.75) scale(1 1.03) translate(-1066.17 -1640.75)" stroke="#2a2a2a" stroke-width="0.22">1</text>
<rect x="1089.82" y="1651.05" width="19.6" height="78.25" fill="#3b3b3b" stroke="none" stroke-width="1.3"/>
<text x="1099.62" y="1640.75" font-size="14.6" text-anchor="middle" fill="#2a2a2a" transform="translate(1099.62 1640.75) scale(1 1.03) translate(-1099.62 -1640.75)" stroke="#2a2a2a" stroke-width="0.22">1</text>
<rect x="1123.27" y="1651.05" width="19.6" height="78.25" fill="#3b3b3b" stroke="none" stroke-width="1.3"/>
<text x="1133.07" y="1640.75" font-size="14.6" text-anchor="middle" fill="#2a2a2a" transform="translate(1133.07 1640.75) scale(1 1.03) translate(-1133.07 -1640.75)" stroke="#2a2a2a" stroke-width="0.22">1</text>
<rect x="1156.71" y="1651.05" width="19.6" height="78.25" fill="#3b3b3b" stroke="none" stroke-width="1.3"/>
<text x="1166.51" y="1640.75" font-size="14.6" text-anchor="middle" fill="#2a2a2a" transform="translate(1166.51 1640.75) scale(1 1.03) translate(-1166.51 -1640.75)" stroke="#2a2a2a" stroke-width="0.22">1</text>
<line x1="531.6" y1="1187.4" x2="531.6" y2="1737.5" stroke="#333" stroke-width="1.2"/>
<line x1="531.6" y1="1729.3" x2="1200" y2="1729.3" stroke="#111" stroke-width="1.6"/>
<line x1="527.1" y1="1729.3" x2="531.6" y2="1729.3" stroke="#333" stroke-width="1.2"/>
<text x="522.9" y="1733.7" font-size="18.2" text-anchor="end" fill="#4d4d4d" transform="translate(522.9 1733.7) scale(1 1.03) translate(-522.9 -1733.7)" stroke="#4d4d4d" stroke-width="0.22">0</text>
<line x1="527.1" y1="1572.8" x2="531.6" y2="1572.8" stroke="#333" stroke-width="1.2"/>
<text x="522.9" y="1577.2" font-size="18.2" text-anchor="end" fill="#4d4d4d" transform="translate(522.9 1577.2) scale(1 1.03) translate(-522.9 -1577.2)" stroke="#4d4d4d" stroke-width="0.22">2</text>
<line x1="527.1" y1="1416.3" x2="531.6" y2="1416.3" stroke="#333" stroke-width="1.2"/>
<text x="522.9" y="1420.7" font-size="18.2" text-anchor="end" fill="#4d4d4d" transform="translate(522.9 1420.7) scale(1 1.03) translate(-522.9 -1420.7)" stroke="#4d4d4d" stroke-width="0.22">4</text>
<line x1="527.1" y1="1259.8" x2="531.6" y2="1259.8" stroke="#333" stroke-width="1.2"/>
<text x="522.9" y="1264.2" font-size="18.2" text-anchor="end" fill="#4d4d4d" transform="translate(522.9 1264.2) scale(1 1.03) translate(-522.9 -1264.2)" stroke="#4d4d4d" stroke-width="0.22">6</text>
<text x="413.8" y="1471.2" font-size="19.3" text-anchor="middle" fill="#000" transform="rotate(-90 413.8 1471.2) translate(413.8 1471.2) scale(1 1.03) translate(-413.8 -1471.2)" stroke="#000" stroke-width="0.22">Gene Intersections</text>
<text x="800.8" y="1624.5" font-size="12.7" text-anchor="middle" fill="#8000f0" font-weight="bold" font-family='"Liberation Serif", serif'>TAP2</text>
<text x="873.2" y="1622.5" font-size="12.7" text-anchor="middle" fill="#8000f0" font-weight="bold" font-family='"Liberation Serif", serif'>HLA-DPA1</text>
<text x="1067.5" y="1623.4" font-size="12.7" text-anchor="middle" fill="#8000f0" font-weight="bold" font-family='"Liberation Serif", serif'>B2M</text>
<text x="1134.5" y="1623.6" font-size="12.7" text-anchor="middle" fill="#8000f0" font-weight="bold" font-family='"Liberation Serif", serif'>HLA-DQA1</text>
<text x="1191.3" y="1643.2" font-size="12.7" text-anchor="middle" fill="#8000f0" font-weight="bold" font-family='"Liberation Serif", serif'>TAP1</text>
<rect x="531.7" y="1769.1" width="668.1" height="31.2" fill="#f6f6f6" stroke="none" stroke-width="1.3"/>
<rect x="531.7" y="1831.5" width="668.1" height="31.2" fill="#f6f6f6" stroke="none" stroke-width="1.3"/>
<rect x="531.7" y="1893.9" width="668.1" height="31.2" fill="#f6f6f6" stroke="none" stroke-width="1.3"/>
<circle cx="564.5" cy="1753.5" r="4.1" fill="#e2e2e2"/>
<circle cx="564.5" cy="1784.7" r="4.1" fill="#e2e2e2"/>
<circle cx="564.5" cy="1815.9" r="4.1" fill="#e2e2e2"/>
<circle cx="564.5" cy="1847.1" r="4.1" fill="#e2e2e2"/>
<circle cx="564.5" cy="1878.3" r="4.1" fill="#e2e2e2"/>
<circle cx="564.5" cy="1909.5" r="4.1" fill="#e2e2e2"/>
<circle cx="597.95" cy="1753.5" r="4.1" fill="#e2e2e2"/>
<circle cx="597.95" cy="1784.7" r="4.1" fill="#e2e2e2"/>
<circle cx="597.95" cy="1815.9" r="4.1" fill="#e2e2e2"/>
<circle cx="597.95" cy="1847.1" r="4.1" fill="#e2e2e2"/>
<circle cx="597.95" cy="1878.3" r="4.1" fill="#e2e2e2"/>
<circle cx="597.95" cy="1909.5" r="4.1" fill="#e2e2e2"/>
<circle cx="631.39" cy="1753.5" r="4.1" fill="#e2e2e2"/>
<circle cx="631.39" cy="1784.7" r="4.1" fill="#e2e2e2"/>
<circle cx="631.39" cy="1815.9" r="4.1" fill="#e2e2e2"/>
<circle cx="631.39" cy="1847.1" r="4.1" fill="#e2e2e2"/>
<circle cx="631.39" cy="1878.3" r="4.1" fill="#e2e2e2"/>
<circle cx="631.39" cy="1909.5" r="4.1" fill="#e2e2e2"/>
<circle cx="664.84" cy="1753.5" r="4.1" fill="#e2e2e2"/>
<circle cx="664.84" cy="1784.7" r="4.1" fill="#e2e2e2"/>
<circle cx="664.84" cy="1815.9" r="4.1" fill="#e2e2e2"/>
<circle cx="664.84" cy="1847.1" r="4.1" fill="#e2e2e2"/>
<circle cx="664.84" cy="1878.3" r="4.1" fill="#e2e2e2"/>
<circle cx="664.84" cy="1909.5" r="4.1" fill="#e2e2e2"/>
<circle cx="698.28" cy="1753.5" r="4.1" fill="#e2e2e2"/>
<circle cx="698.28" cy="1784.7" r="4.1" fill="#e2e2e2"/>
<circle cx="698.28" cy="1815.9" r="4.1" fill="#e2e2e2"/>
<circle cx="698.28" cy="1847.1" r="4.1" fill="#e2e2e2"/>
<circle cx="698.28" cy="1878.3" r="4.1" fill="#e2e2e2"/>
<circle cx="698.28" cy="1909.5" r="4.1" fill="#e2e2e2"/>
<circle cx="731.73" cy="1753.5" r="4.1" fill="#e2e2e2"/>
<circle cx="731.73" cy="1784.7" r="4.1" fill="#e2e2e2"/>
<circle cx="731.73" cy="1815.9" r="4.1" fill="#e2e2e2"/>
<circle cx="731.73" cy="1847.1" r="4.1" fill="#e2e2e2"/>
<circle cx="731.73" cy="1878.3" r="4.1" fill="#e2e2e2"/>
<circle cx="731.73" cy="1909.5" r="4.1" fill="#e2e2e2"/>
<circle cx="765.17" cy="1753.5" r="4.1" fill="#e2e2e2"/>
<circle cx="765.17" cy="1784.7" r="4.1" fill="#e2e2e2"/>
<circle cx="765.17" cy="1815.9" r="4.1" fill="#e2e2e2"/>
<circle cx="765.17" cy="1847.1" r="4.1" fill="#e2e2e2"/>
<circle cx="765.17" cy="1878.3" r="4.1" fill="#e2e2e2"/>
<circle cx="765.17" cy="1909.5" r="4.1" fill="#e2e2e2"/>
<circle cx="798.62" cy="1753.5" r="4.1" fill="#e2e2e2"/>
<circle cx="798.62" cy="1784.7" r="4.1" fill="#e2e2e2"/>
<circle cx="798.62" cy="1815.9" r="4.1" fill="#e2e2e2"/>
<circle cx="798.62" cy="1847.1" r="4.1" fill="#e2e2e2"/>
<circle cx="798.62" cy="1878.3" r="4.1" fill="#e2e2e2"/>
<circle cx="798.62" cy="1909.5" r="4.1" fill="#e2e2e2"/>
<circle cx="832.06" cy="1753.5" r="4.1" fill="#e2e2e2"/>
<circle cx="832.06" cy="1784.7" r="4.1" fill="#e2e2e2"/>
<circle cx="832.06" cy="1815.9" r="4.1" fill="#e2e2e2"/>
<circle cx="832.06" cy="1847.1" r="4.1" fill="#e2e2e2"/>
<circle cx="832.06" cy="1878.3" r="4.1" fill="#e2e2e2"/>
<circle cx="832.06" cy="1909.5" r="4.1" fill="#e2e2e2"/>
<circle cx="865.5" cy="1753.5" r="4.1" fill="#e2e2e2"/>
<circle cx="865.5" cy="1784.7" r="4.1" fill="#e2e2e2"/>
<circle cx="865.5" cy="1815.9" r="4.1" fill="#e2e2e2"/>
<circle cx="865.5" cy="1847.1" r="4.1" fill="#e2e2e2"/>
<circle cx="865.5" cy="1878.3" r="4.1" fill="#e2e2e2"/>
<circle cx="865.5" cy="1909.5" r="4.1" fill="#e2e2e2"/>
<circle cx="898.95" cy="1753.5" r="4.1" fill="#e2e2e2"/>
<circle cx="898.95" cy="1784.7" r="4.1" fill="#e2e2e2"/>
<circle cx="898.95" cy="1815.9" r="4.1" fill="#e2e2e2"/>
<circle cx="898.95" cy="1847.1" r="4.1" fill="#e2e2e2"/>
<circle cx="898.95" cy="1878.3" r="4.1" fill="#e2e2e2"/>
<circle cx="898.95" cy="1909.5" r="4.1" fill="#e2e2e2"/>
<circle cx="932.39" cy="1753.5" r="4.1" fill="#e2e2e2"/>
<circle cx="932.39" cy="1784.7" r="4.1" fill="#e2e2e2"/>
<circle cx="932.39" cy="1815.9" r="4.1" fill="#e2e2e2"/>
<circle cx="932.39" cy="1847.1" r="4.1" fill="#e2e2e2"/>
<circle cx="932.39" cy="1878.3" r="4.1" fill="#e2e2e2"/>
<circle cx="932.39" cy="1909.5" r="4.1" fill="#e2e2e2"/>
<circle cx="965.84" cy="1753.5" r="4.1" fill="#e2e2e2"/>
<circle cx="965.84" cy="1784.7" r="4.1" fill="#e2e2e2"/>
<circle cx="965.84" cy="1815.9" r="4.1" fill="#e2e2e2"/>
<circle cx="965.84" cy="1847.1" r="4.1" fill="#e2e2e2"/>
<circle cx="965.84" cy="1878.3" r="4.1" fill="#e2e2e2"/>
<circle cx="965.84" cy="1909.5" r="4.1" fill="#e2e2e2"/>
<circle cx="999.29" cy="1753.5" r="4.1" fill="#e2e2e2"/>
<circle cx="999.29" cy="1784.7" r="4.1" fill="#e2e2e2"/>
<circle cx="999.29" cy="1815.9" r="4.1" fill="#e2e2e2"/>
<circle cx="999.29" cy="1847.1" r="4.1" fill="#e2e2e2"/>
<circle cx="999.29" cy="1878.3" r="4.1" fill="#e2e2e2"/>
<circle cx="999.29" cy="1909.5" r="4.1" fill="#e2e2e2"/>
<circle cx="1032.73" cy="1753.5" r="4.1" fill="#e2e2e2"/>
<circle cx="1032.73" cy="1784.7" r="4.1" fill="#e2e2e2"/>
<circle cx="1032.73" cy="1815.9" r="4.1" fill="#e2e2e2"/>
<circle cx="1032.73" cy="1847.1" r="4.1" fill="#e2e2e2"/>
<circle cx="1032.73" cy="1878.3" r="4.1" fill="#e2e2e2"/>
<circle cx="1032.73" cy="1909.5" r="4.1" fill="#e2e2e2"/>
<circle cx="1066.17" cy="1753.5" r="4.1" fill="#e2e2e2"/>
<circle cx="1066.17" cy="1784.7" r="4.1" fill="#e2e2e2"/>
<circle cx="1066.17" cy="1815.9" r="4.1" fill="#e2e2e2"/>
<circle cx="1066.17" cy="1847.1" r="4.1" fill="#e2e2e2"/>
<circle cx="1066.17" cy="1878.3" r="4.1" fill="#e2e2e2"/>
<circle cx="1066.17" cy="1909.5" r="4.1" fill="#e2e2e2"/>
<circle cx="1099.62" cy="1753.5" r="4.1" fill="#e2e2e2"/>
<circle cx="1099.62" cy="1784.7" r="4.1" fill="#e2e2e2"/>
<circle cx="1099.62" cy="1815.9" r="4.1" fill="#e2e2e2"/>
<circle cx="1099.62" cy="1847.1" r="4.1" fill="#e2e2e2"/>
<circle cx="1099.62" cy="1878.3" r="4.1" fill="#e2e2e2"/>
<circle cx="1099.62" cy="1909.5" r="4.1" fill="#e2e2e2"/>
<circle cx="1133.07" cy="1753.5" r="4.1" fill="#e2e2e2"/>
<circle cx="1133.07" cy="1784.7" r="4.1" fill="#e2e2e2"/>
<circle cx="1133.07" cy="1815.9" r="4.1" fill="#e2e2e2"/>
<circle cx="1133.07" cy="1847.1" r="4.1" fill="#e2e2e2"/>
<circle cx="1133.07" cy="1878.3" r="4.1" fill="#e2e2e2"/>
<circle cx="1133.07" cy="1909.5" r="4.1" fill="#e2e2e2"/>
<circle cx="1166.51" cy="1753.5" r="4.1" fill="#e2e2e2"/>
<circle cx="1166.51" cy="1784.7" r="4.1" fill="#e2e2e2"/>
<circle cx="1166.51" cy="1815.9" r="4.1" fill="#e2e2e2"/>
<circle cx="1166.51" cy="1847.1" r="4.1" fill="#e2e2e2"/>
<circle cx="1166.51" cy="1878.3" r="4.1" fill="#e2e2e2"/>
<circle cx="1166.51" cy="1909.5" r="4.1" fill="#e2e2e2"/>
<circle cx="564.5" cy="1909.5" r="4.2" fill="#dc0000"/>
<circle cx="597.95" cy="1847.1" r="4.2" fill="#dc0000"/>
<line x1="631.39" y1="1753.5" x2="631.39" y2="1815.9" stroke="#dc0000" stroke-width="2.6"/>
<circle cx="631.39" cy="1753.5" r="4.2" fill="#dc0000"/>
<circle cx="631.39" cy="1815.9" r="4.2" fill="#dc0000"/>
<line x1="664.84" y1="1784.7" x2="664.84" y2="1815.9" stroke="#dc0000" stroke-width="2.6"/>
<circle cx="664.84" cy="1784.7" r="4.2" fill="#dc0000"/>
<circle cx="664.84" cy="1815.9" r="4.2" fill="#dc0000"/>
<line x1="698.28" y1="1753.5" x2="698.28" y2="1847.1" stroke="#dc0000" stroke-width="2.6"/>
<circle cx="698.28" cy="1753.5" r="4.2" fill="#dc0000"/>
<circle cx="698.28" cy="1847.1" r="4.2" fill="#dc0000"/>
<line x1="731.73" y1="1753.5" x2="731.73" y2="1847.1" stroke="#dc0000" stroke-width="2.6"/>
<circle cx="731.73" cy="1753.5" r="4.2" fill="#dc0000"/>
<circle cx="731.73" cy="1815.9" r="4.2" fill="#dc0000"/>
<circle cx="731.73" cy="1847.1" r="4.2" fill="#dc0000"/>
<circle cx="765.17" cy="1878.3" r="4.2" fill="#dc0000"/>
<line x1="798.62" y1="1753.5" x2="798.62" y2="1878.3" stroke="#dc0000" stroke-width="2.6"/>
<circle cx="798.62" cy="1753.5" r="4.2" fill="#dc0000"/>
<circle cx="798.62" cy="1784.7" r="4.2" fill="#dc0000"/>
<circle cx="798.62" cy="1815.9" r="4.2" fill="#dc0000"/>
<circle cx="798.62" cy="1878.3" r="4.2" fill="#dc0000"/>
<line x1="832.06" y1="1815.9" x2="832.06" y2="1878.3" stroke="#dc0000" stroke-width="2.6"/>
<circle cx="832.06" cy="1815.9" r="4.2" fill="#dc0000"/>
<circle cx="832.06" cy="1847.1" r="4.2" fill="#dc0000"/>
<circle cx="832.06" cy="1878.3" r="4.2" fill="#dc0000"/>
<line x1="865.5" y1="1784.7" x2="865.5" y2="1878.3" stroke="#dc0000" stroke-width="2.6"/>
<circle cx="865.5" cy="1784.7" r="4.2" fill="#dc0000"/>
<circle cx="865.5" cy="1815.9" r="4.2" fill="#dc0000"/>
<circle cx="865.5" cy="1847.1" r="4.2" fill="#dc0000"/>
<circle cx="865.5" cy="1878.3" r="4.2" fill="#dc0000"/>
<line x1="898.95" y1="1784.7" x2="898.95" y2="1909.5" stroke="#dc0000" stroke-width="2.6"/>
<circle cx="898.95" cy="1784.7" r="4.2" fill="#dc0000"/>
<circle cx="898.95" cy="1909.5" r="4.2" fill="#dc0000"/>
<line x1="932.39" y1="1784.7" x2="932.39" y2="1909.5" stroke="#dc0000" stroke-width="2.6"/>
<circle cx="932.39" cy="1784.7" r="4.2" fill="#dc0000"/>
<circle cx="932.39" cy="1815.9" r="4.2" fill="#dc0000"/>
<circle cx="932.39" cy="1909.5" r="4.2" fill="#dc0000"/>
<line x1="965.84" y1="1847.1" x2="965.84" y2="1909.5" stroke="#dc0000" stroke-width="2.6"/>
<circle cx="965.84" cy="1847.1" r="4.2" fill="#dc0000"/>
<circle cx="965.84" cy="1909.5" r="4.2" fill="#dc0000"/>
<line x1="999.29" y1="1878.3" x2="999.29" y2="1909.5" stroke="#dc0000" stroke-width="2.6"/>
<circle cx="999.29" cy="1878.3" r="4.2" fill="#dc0000"/>
<circle cx="999.29" cy="1909.5" r="4.2" fill="#dc0000"/>
<line x1="1032.73" y1="1815.9" x2="1032.73" y2="1909.5" stroke="#dc0000" stroke-width="2.6"/>
<circle cx="1032.73" cy="1815.9" r="4.2" fill="#dc0000"/>
<circle cx="1032.73" cy="1878.3" r="4.2" fill="#dc0000"/>
<circle cx="1032.73" cy="1909.5" r="4.2" fill="#dc0000"/>
<line x1="1066.17" y1="1784.7" x2="1066.17" y2="1909.5" stroke="#dc0000" stroke-width="2.6"/>
<circle cx="1066.17" cy="1784.7" r="4.2" fill="#dc0000"/>
<circle cx="1066.17" cy="1815.9" r="4.2" fill="#dc0000"/>
<circle cx="1066.17" cy="1878.3" r="4.2" fill="#dc0000"/>
<circle cx="1066.17" cy="1909.5" r="4.2" fill="#dc0000"/>
<line x1="1099.62" y1="1847.1" x2="1099.62" y2="1909.5" stroke="#dc0000" stroke-width="2.6"/>
<circle cx="1099.62" cy="1847.1" r="4.2" fill="#dc0000"/>
<circle cx="1099.62" cy="1878.3" r="4.2" fill="#dc0000"/>
<circle cx="1099.62" cy="1909.5" r="4.2" fill="#dc0000"/>
<line x1="1133.07" y1="1753.5" x2="1133.07" y2="1909.5" stroke="#dc0000" stroke-width="2.6"/>
<circle cx="1133.07" cy="1753.5" r="4.2" fill="#dc0000"/>
<circle cx="1133.07" cy="1847.1" r="4.2" fill="#dc0000"/>
<circle cx="1133.07" cy="1878.3" r="4.2" fill="#dc0000"/>
<circle cx="1133.07" cy="1909.5" r="4.2" fill="#dc0000"/>
<line x1="1166.51" y1="1784.7" x2="1166.51" y2="1909.5" stroke="#dc0000" stroke-width="2.6"/>
<circle cx="1166.51" cy="1784.7" r="4.2" fill="#dc0000"/>
<circle cx="1166.51" cy="1815.9" r="4.2" fill="#dc0000"/>
<circle cx="1166.51" cy="1847.1" r="4.2" fill="#dc0000"/>
<circle cx="1166.51" cy="1878.3" r="4.2" fill="#dc0000"/>
<circle cx="1166.51" cy="1909.5" r="4.2" fill="#dc0000"/>
<text x="414.01" y="1759.6" font-size="17.6" text-anchor="start" fill="#000" transform="translate(414.01 1759.6) scale(1 0.95) translate(-414.01 -1759.6)" stroke="#000" stroke-width="0.22">GSE65682LA</text>
<text x="414.01" y="1790.8" font-size="17.6" text-anchor="start" fill="#000" transform="translate(414.01 1790.8) scale(1 0.95) translate(-414.01 -1790.8)" stroke="#000" stroke-width="0.22">GSE63042LA</text>
<text x="414.01" y="1822" font-size="17.6" text-anchor="start" fill="#000" transform="translate(414.01 1822) scale(1 0.95) translate(-414.01 -1822)" stroke="#000" stroke-width="0.22">GSE63042RF</text>
<text x="414.01" y="1853.2" font-size="17.6" text-anchor="start" fill="#000" transform="translate(414.01 1853.2) scale(1 0.95) translate(-414.01 -1853.2)" stroke="#000" stroke-width="0.22">GSE65682RF</text>
<text x="414.01" y="1884.4" font-size="17.6" text-anchor="start" fill="#000" transform="translate(414.01 1884.4) scale(1 0.95) translate(-414.01 -1884.4)" stroke="#000" stroke-width="0.22">GSE95233RF</text>
<text x="414.01" y="1915.6" font-size="17.6" text-anchor="start" fill="#000" transform="translate(414.01 1915.6) scale(1 0.95) translate(-414.01 -1915.6)" stroke="#000" stroke-width="0.22">GSE95233LA</text>
<rect x="332.75" y="1746.6" width="68.85" height="13.8" fill="#3b3b3b" stroke="none" stroke-width="1.3"/>
<rect x="305.21" y="1777.8" width="96.39" height="13.8" fill="#3b3b3b" stroke="none" stroke-width="1.3"/>
<rect x="263.9" y="1809" width="137.7" height="13.8" fill="#3b3b3b" stroke="none" stroke-width="1.3"/>
<rect x="263.9" y="1840.2" width="137.7" height="13.8" fill="#3b3b3b" stroke="none" stroke-width="1.3"/>
<rect x="263.9" y="1871.4" width="137.7" height="13.8" fill="#3b3b3b" stroke="none" stroke-width="1.3"/>
<rect x="195.05" y="1902.6" width="206.55" height="13.8" fill="#3b3b3b" stroke="none" stroke-width="1.3"/>
<line x1="186.1" y1="1925" x2="411.5" y2="1925" stroke="#333" stroke-width="1.3"/>
<line x1="195.05" y1="1925" x2="195.05" y2="1929" stroke="#333" stroke-width="1.2"/>
<text x="195.05" y="1945.6" font-size="17.6" text-anchor="middle" fill="#4d4d4d" transform="translate(195.05 1945.6) scale(1 0.95) translate(-195.05 -1945.6)" stroke="#4d4d4d" stroke-width="0.22">15</text>
<line x1="263.9" y1="1925" x2="263.9" y2="1929" stroke="#333" stroke-width="1.2"/>
<text x="263.9" y="1945.6" font-size="17.6" text-anchor="middle" fill="#4d4d4d" transform="translate(263.9 1945.6) scale(1 0.95) translate(-263.9 -1945.6)" stroke="#4d4d4d" stroke-width="0.22">10</text>
<line x1="332.75" y1="1925" x2="332.75" y2="1929" stroke="#333" stroke-width="1.2"/>
<text x="332.75" y="1945.6" font-size="17.6" text-anchor="middle" fill="#4d4d4d" transform="translate(332.75 1945.6) scale(1 0.95) translate(-332.75 -1945.6)" stroke="#4d4d4d" stroke-width="0.22">5</text>
<line x1="401.6" y1="1925" x2="401.6" y2="1929" stroke="#333" stroke-width="1.2"/>
<text x="401.6" y="1945.6" font-size="17.6" text-anchor="middle" fill="#4d4d4d" transform="translate(401.6 1945.6) scale(1 0.95) translate(-401.6 -1945.6)" stroke="#4d4d4d" stroke-width="0.22">0</text>
<text x="298.6" y="1967" font-size="19.3" text-anchor="middle" fill="#000" transform="translate(298.6 1967) scale(1 0.94) translate(-298.6 -1967)" stroke="#000" stroke-width="0.22">Set Size</text>
<rect x="690.5" y="1969.5" width="2" height="1.5" fill="#222" stroke="none" stroke-width="1.3"/>
</svg>
</body></html>
